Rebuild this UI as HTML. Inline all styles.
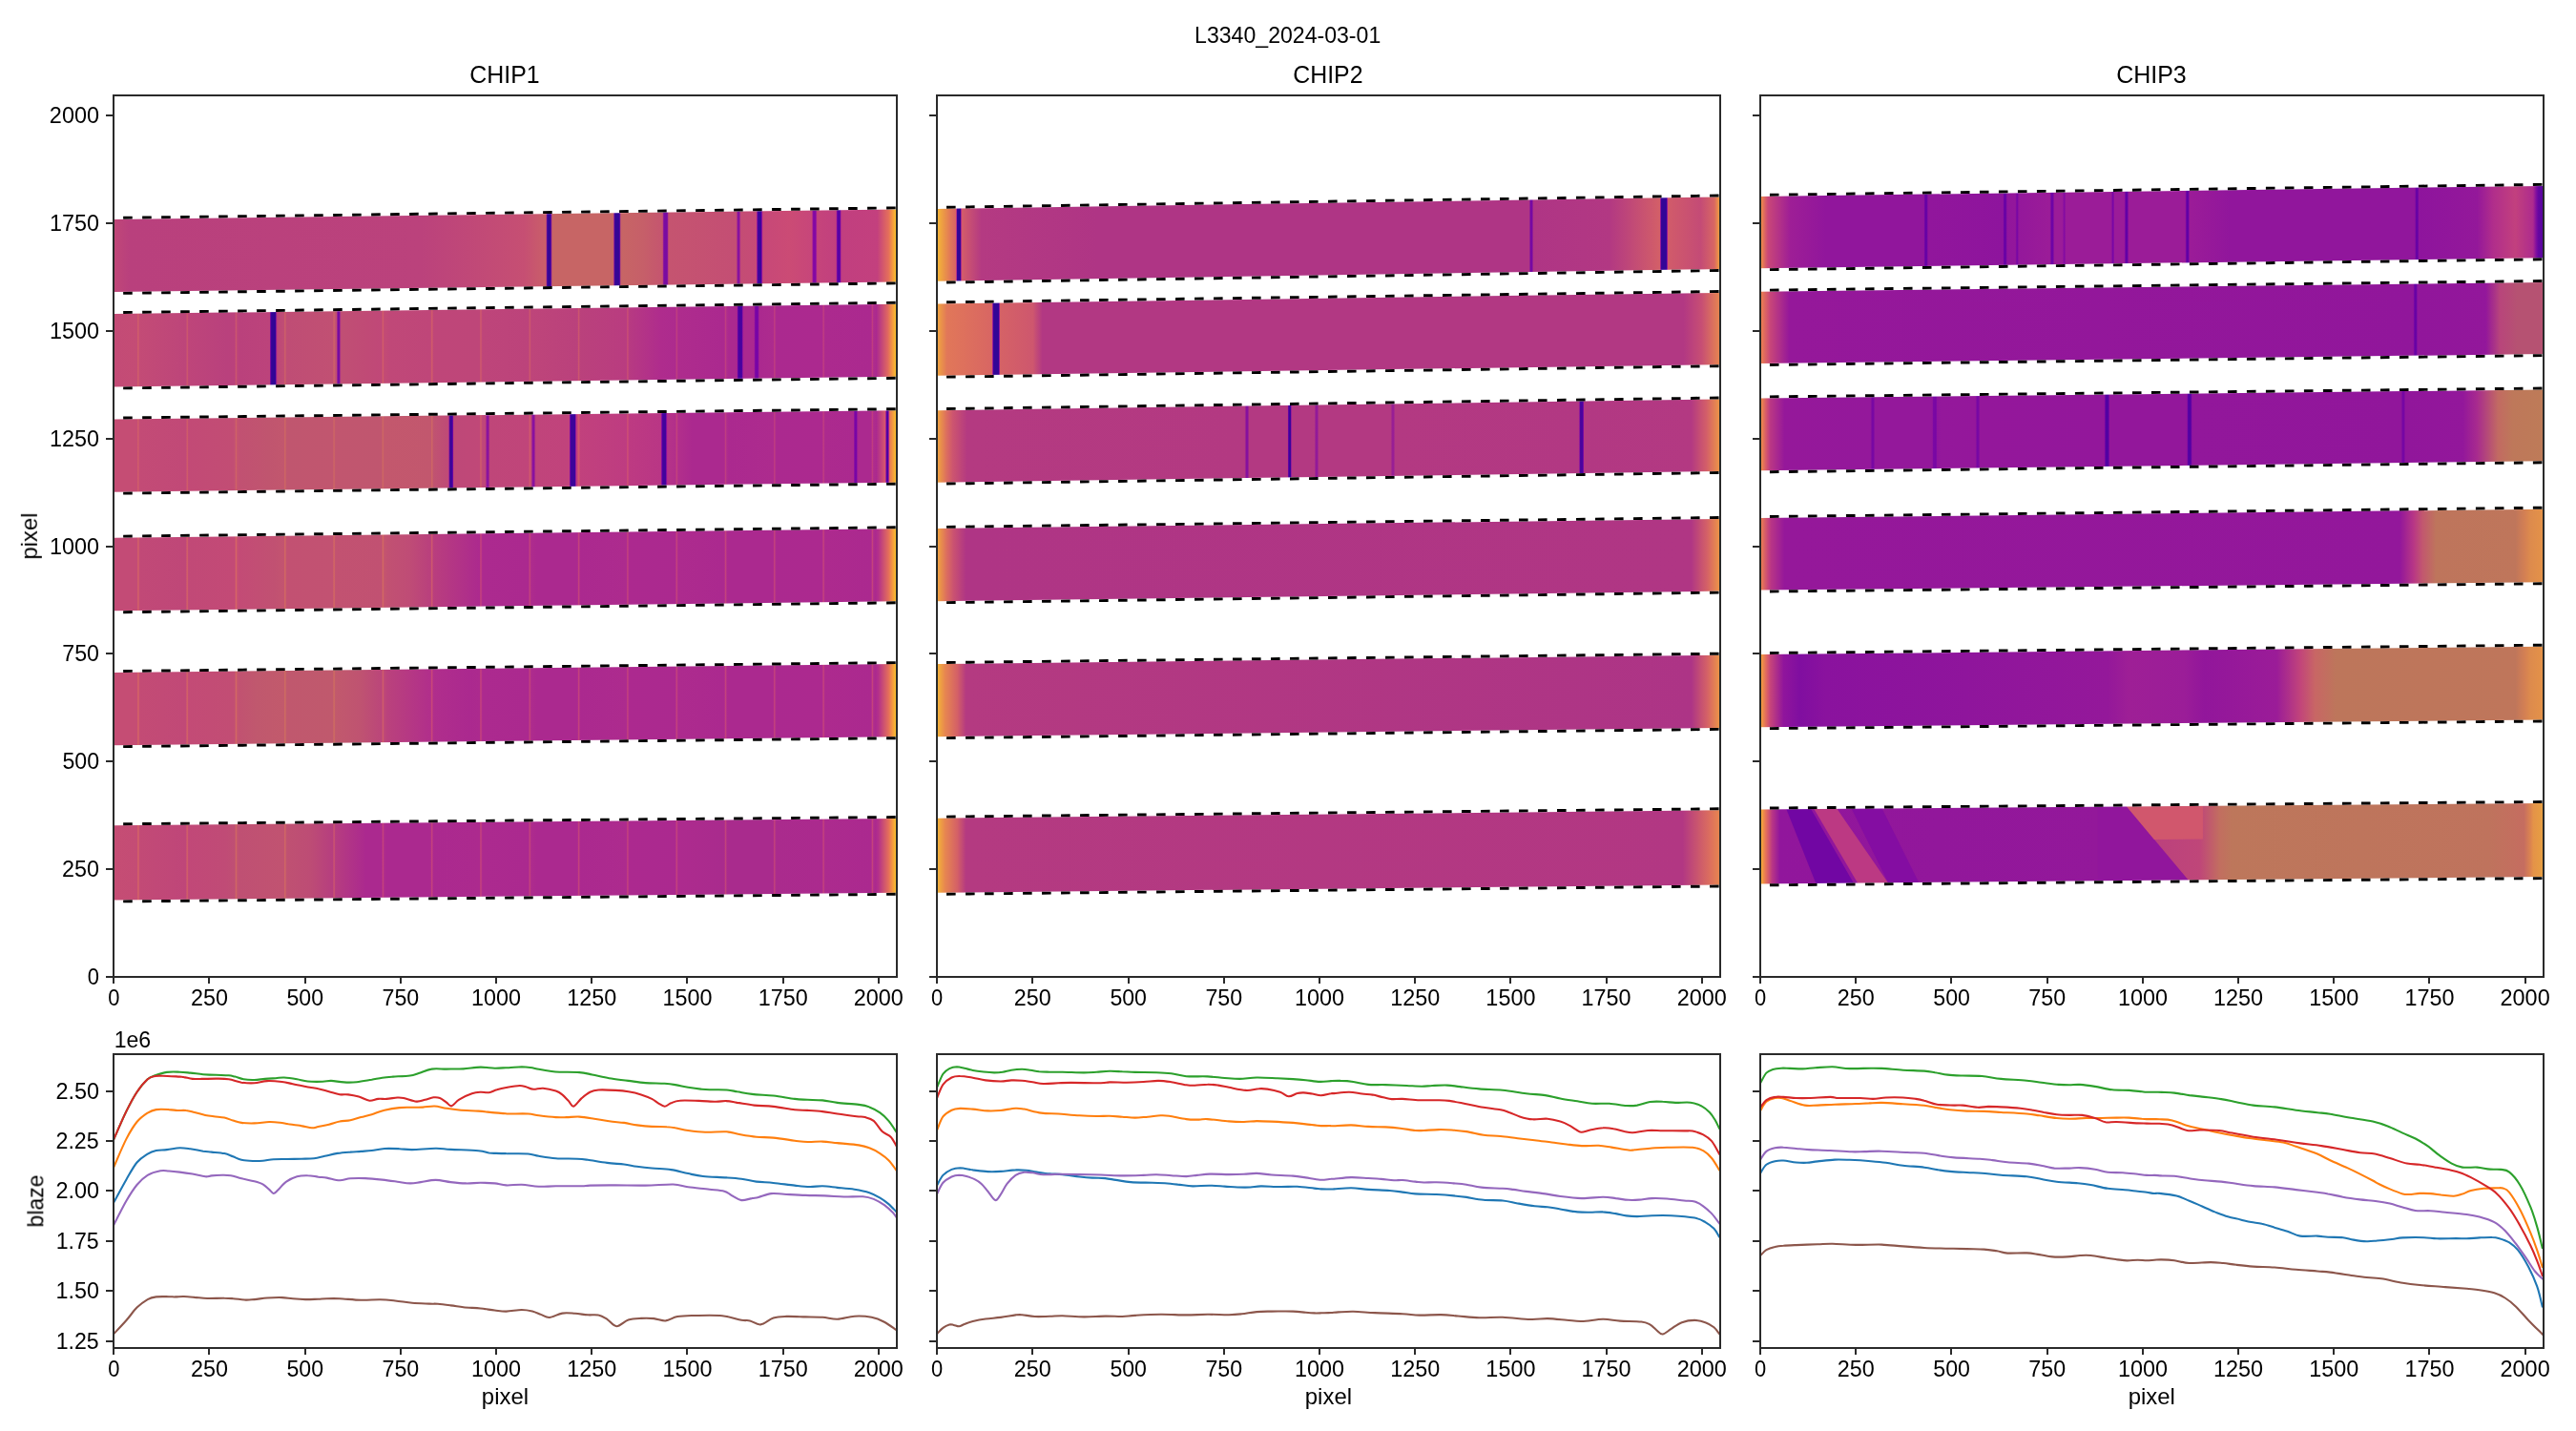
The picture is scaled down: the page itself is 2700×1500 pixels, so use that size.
<!DOCTYPE html>
<html><head><meta charset="utf-8"><title>L3340_2024-03-01</title>
<style>html,body{margin:0;padding:0;background:#fff;}svg{display:block;}
text{font-family:"Liberation Sans",sans-serif;fill:#000;font-kerning:none;}</style></head>
<body>
<svg xmlns="http://www.w3.org/2000/svg" width="2700" height="1500" viewBox="0 0 2700 1500">
<defs><clipPath id="cb1"><rect x="119.10" y="1105.20" width="820.83" height="307.80"/></clipPath><clipPath id="ct1"><rect x="119.10" y="100.06" width="820.83" height="923.84"/></clipPath><clipPath id="cb2"><rect x="982.00" y="1105.20" width="820.83" height="307.80"/></clipPath><clipPath id="ct2"><rect x="982.00" y="100.06" width="820.83" height="923.84"/></clipPath><clipPath id="cb3"><rect x="1844.90" y="1105.20" width="820.83" height="307.80"/></clipPath><clipPath id="ct3"><rect x="1844.90" y="100.06" width="820.83" height="923.84"/></clipPath><linearGradient id="g1" gradientUnits="userSpaceOnUse" x1="119.10" y1="0" x2="940.10" y2="0"><stop offset="0.0006" stop-color="#c04778"/><stop offset="0.0201" stop-color="#b9407d"/><stop offset="0.3928" stop-color="#bb427c"/><stop offset="0.5244" stop-color="#c64f73"/><stop offset="0.5487" stop-color="#c95d6a"/><stop offset="0.5512" stop-color="#c95f69"/><stop offset="0.5524" stop-color="#b7457b"/><stop offset="0.5536" stop-color="#45079b"/><stop offset="0.5548" stop-color="#340696"/><stop offset="0.5572" stop-color="#340696"/><stop offset="0.5585" stop-color="#640a9f"/><stop offset="0.5597" stop-color="#c35c6b"/><stop offset="0.5609" stop-color="#c76565"/><stop offset="0.6376" stop-color="#c76565"/><stop offset="0.6389" stop-color="#912194"/><stop offset="0.6401" stop-color="#350696"/><stop offset="0.6449" stop-color="#350696"/><stop offset="0.6462" stop-color="#5d0a9e"/><stop offset="0.6474" stop-color="#c0586e"/><stop offset="0.6486" stop-color="#c76565"/><stop offset="0.6766" stop-color="#c65f69"/><stop offset="0.6998" stop-color="#c5556f"/><stop offset="0.7010" stop-color="#be4978"/><stop offset="0.7022" stop-color="#87139d"/><stop offset="0.7034" stop-color="#780ba1"/><stop offset="0.7058" stop-color="#780ba1"/><stop offset="0.7071" stop-color="#87139d"/><stop offset="0.7083" stop-color="#be4978"/><stop offset="0.7095" stop-color="#c55470"/><stop offset="0.7948" stop-color="#c44e74"/><stop offset="0.7960" stop-color="#a92d8b"/><stop offset="0.7972" stop-color="#86109f"/><stop offset="0.7984" stop-color="#85109f"/><stop offset="0.7996" stop-color="#a92c8c"/><stop offset="0.8009" stop-color="#c44d74"/><stop offset="0.8203" stop-color="#c64a77"/><stop offset="0.8216" stop-color="#8d119f"/><stop offset="0.8228" stop-color="#3c049b"/><stop offset="0.8264" stop-color="#3c049b"/><stop offset="0.8276" stop-color="#8c10a0"/><stop offset="0.8289" stop-color="#c74878"/><stop offset="0.8630" stop-color="#cb4b75"/><stop offset="0.8910" stop-color="#c7467a"/><stop offset="0.8922" stop-color="#ad2a8f"/><stop offset="0.8934" stop-color="#8309a4"/><stop offset="0.8959" stop-color="#8309a4"/><stop offset="0.8971" stop-color="#a32096"/><stop offset="0.8983" stop-color="#c5447b"/><stop offset="0.9214" stop-color="#c2407e"/><stop offset="0.9227" stop-color="#b63289"/><stop offset="0.9239" stop-color="#6801a7"/><stop offset="0.9251" stop-color="#5502a3"/><stop offset="0.9263" stop-color="#5502a3"/><stop offset="0.9275" stop-color="#6801a7"/><stop offset="0.9287" stop-color="#b53289"/><stop offset="0.9300" stop-color="#c13f7f"/><stop offset="0.9750" stop-color="#c3407e"/><stop offset="0.9896" stop-color="#e5705a"/><stop offset="0.9957" stop-color="#f7a53a"/><stop offset="0.9994" stop-color="#f8c62d"/></linearGradient><linearGradient id="g2" gradientUnits="userSpaceOnUse" x1="119.10" y1="0" x2="940.10" y2="0"><stop offset="0.0006" stop-color="#c34b76"/><stop offset="0.0298" stop-color="#c44c75"/><stop offset="0.0311" stop-color="#d15e69"/><stop offset="0.0335" stop-color="#c34b76"/><stop offset="0.0920" stop-color="#bd457a"/><stop offset="0.0944" stop-color="#cc576e"/><stop offset="0.0956" stop-color="#be457a"/><stop offset="0.1443" stop-color="#b9417d"/><stop offset="0.1541" stop-color="#ba417c"/><stop offset="0.1553" stop-color="#c04778"/><stop offset="0.1565" stop-color="#cd576d"/><stop offset="0.1577" stop-color="#be4679"/><stop offset="0.1602" stop-color="#ba417c"/><stop offset="0.1991" stop-color="#bc437b"/><stop offset="0.2004" stop-color="#6d04a4"/><stop offset="0.2016" stop-color="#310596"/><stop offset="0.2065" stop-color="#310596"/><stop offset="0.2077" stop-color="#971c97"/><stop offset="0.2089" stop-color="#bd4679"/><stop offset="0.2174" stop-color="#c04d74"/><stop offset="0.2186" stop-color="#cd5f69"/><stop offset="0.2211" stop-color="#bf4d75"/><stop offset="0.2795" stop-color="#c15073"/><stop offset="0.2808" stop-color="#cb5c6a"/><stop offset="0.2820" stop-color="#cd5f69"/><stop offset="0.2832" stop-color="#c25073"/><stop offset="0.2844" stop-color="#c14f73"/><stop offset="0.2856" stop-color="#961f95"/><stop offset="0.2868" stop-color="#750ba1"/><stop offset="0.2881" stop-color="#750ba1"/><stop offset="0.2893" stop-color="#ac3487"/><stop offset="0.2905" stop-color="#c04f74"/><stop offset="0.3246" stop-color="#c04a76"/><stop offset="0.3417" stop-color="#c04878"/><stop offset="0.3429" stop-color="#c75072"/><stop offset="0.3441" stop-color="#d25e69"/><stop offset="0.3453" stop-color="#c34b75"/><stop offset="0.3526" stop-color="#c04878"/><stop offset="0.4038" stop-color="#bf4679"/><stop offset="0.4050" stop-color="#c24a77"/><stop offset="0.4062" stop-color="#d05c6a"/><stop offset="0.4086" stop-color="#bf4679"/><stop offset="0.4671" stop-color="#be4679"/><stop offset="0.4683" stop-color="#cb556f"/><stop offset="0.4695" stop-color="#ca5370"/><stop offset="0.4708" stop-color="#be457a"/><stop offset="0.5292" stop-color="#bc437b"/><stop offset="0.5317" stop-color="#cd576d"/><stop offset="0.5329" stop-color="#be457a"/><stop offset="0.5914" stop-color="#ba417c"/><stop offset="0.5926" stop-color="#be4679"/><stop offset="0.5938" stop-color="#cd576d"/><stop offset="0.5950" stop-color="#c04878"/><stop offset="0.5962" stop-color="#ba417c"/><stop offset="0.6547" stop-color="#b93c80"/><stop offset="0.6559" stop-color="#c84c75"/><stop offset="0.6571" stop-color="#c34679"/><stop offset="0.6583" stop-color="#b73a82"/><stop offset="0.6985" stop-color="#af2c8d"/><stop offset="0.7168" stop-color="#ad2b8e"/><stop offset="0.7192" stop-color="#bf3d80"/><stop offset="0.7205" stop-color="#ae2c8d"/><stop offset="0.7789" stop-color="#ab298f"/><stop offset="0.7801" stop-color="#b12e8b"/><stop offset="0.7814" stop-color="#c13f7f"/><stop offset="0.7826" stop-color="#b02e8c"/><stop offset="0.7850" stop-color="#ab298f"/><stop offset="0.7948" stop-color="#ab298f"/><stop offset="0.7960" stop-color="#a52393"/><stop offset="0.7972" stop-color="#5e01a5"/><stop offset="0.7984" stop-color="#46039f"/><stop offset="0.8009" stop-color="#46039f"/><stop offset="0.8021" stop-color="#4e02a1"/><stop offset="0.8033" stop-color="#99199b"/><stop offset="0.8045" stop-color="#ab298f"/><stop offset="0.8167" stop-color="#ab298f"/><stop offset="0.8179" stop-color="#a42394"/><stop offset="0.8191" stop-color="#7f08a4"/><stop offset="0.8203" stop-color="#7705a6"/><stop offset="0.8216" stop-color="#7705a6"/><stop offset="0.8228" stop-color="#7f08a4"/><stop offset="0.8240" stop-color="#a42394"/><stop offset="0.8252" stop-color="#ab298f"/><stop offset="0.8423" stop-color="#ad2b8e"/><stop offset="0.8435" stop-color="#bf3c81"/><stop offset="0.8459" stop-color="#ab298f"/><stop offset="0.9044" stop-color="#ac298f"/><stop offset="0.9056" stop-color="#b93685"/><stop offset="0.9068" stop-color="#bd3a83"/><stop offset="0.9080" stop-color="#ac2a8e"/><stop offset="0.9665" stop-color="#ab298f"/><stop offset="0.9677" stop-color="#b3308a"/><stop offset="0.9689" stop-color="#c13e7f"/><stop offset="0.9702" stop-color="#af2c8d"/><stop offset="0.9738" stop-color="#ab298f"/><stop offset="0.9884" stop-color="#e06860"/><stop offset="0.9957" stop-color="#f7a53a"/><stop offset="0.9994" stop-color="#f8c62d"/></linearGradient><linearGradient id="g3" gradientUnits="userSpaceOnUse" x1="119.10" y1="0" x2="940.10" y2="0"><stop offset="0.0006" stop-color="#c54d74"/><stop offset="0.0298" stop-color="#c54d74"/><stop offset="0.0311" stop-color="#d25e69"/><stop offset="0.0335" stop-color="#c34b76"/><stop offset="0.0920" stop-color="#c14977"/><stop offset="0.0944" stop-color="#d05c6a"/><stop offset="0.0956" stop-color="#c24a76"/><stop offset="0.1529" stop-color="#c24d74"/><stop offset="0.1553" stop-color="#c65470"/><stop offset="0.1565" stop-color="#d16465"/><stop offset="0.1577" stop-color="#c55470"/><stop offset="0.1614" stop-color="#c15172"/><stop offset="0.1979" stop-color="#c0556f"/><stop offset="0.2174" stop-color="#c2576e"/><stop offset="0.2186" stop-color="#cd6664"/><stop offset="0.2211" stop-color="#c0566f"/><stop offset="0.2795" stop-color="#c1566f"/><stop offset="0.2808" stop-color="#ca6167"/><stop offset="0.2820" stop-color="#cb6366"/><stop offset="0.2832" stop-color="#c1566f"/><stop offset="0.3417" stop-color="#c0566f"/><stop offset="0.3441" stop-color="#ce6763"/><stop offset="0.3453" stop-color="#c3586d"/><stop offset="0.4050" stop-color="#c2576e"/><stop offset="0.4062" stop-color="#ce6664"/><stop offset="0.4086" stop-color="#c05371"/><stop offset="0.4269" stop-color="#bf4a77"/><stop offset="0.4281" stop-color="#a4298e"/><stop offset="0.4294" stop-color="#3c059a"/><stop offset="0.4318" stop-color="#3b059a"/><stop offset="0.4330" stop-color="#6b05a3"/><stop offset="0.4342" stop-color="#be4878"/><stop offset="0.4671" stop-color="#c04878"/><stop offset="0.4683" stop-color="#cc576e"/><stop offset="0.4695" stop-color="#cb556f"/><stop offset="0.4708" stop-color="#bf4779"/><stop offset="0.4744" stop-color="#bf4679"/><stop offset="0.4756" stop-color="#a72b8d"/><stop offset="0.4769" stop-color="#89129e"/><stop offset="0.4781" stop-color="#89129e"/><stop offset="0.4793" stop-color="#a72a8d"/><stop offset="0.4805" stop-color="#bf4679"/><stop offset="0.5292" stop-color="#c0457a"/><stop offset="0.5317" stop-color="#d1596c"/><stop offset="0.5329" stop-color="#c24779"/><stop offset="0.5353" stop-color="#8810a0"/><stop offset="0.5365" stop-color="#8810a0"/><stop offset="0.5390" stop-color="#c0447b"/><stop offset="0.5816" stop-color="#c1437c"/><stop offset="0.5828" stop-color="#7405a6"/><stop offset="0.5840" stop-color="#3b049a"/><stop offset="0.5889" stop-color="#3b049a"/><stop offset="0.5901" stop-color="#9b1b99"/><stop offset="0.5914" stop-color="#c1427c"/><stop offset="0.5926" stop-color="#c54679"/><stop offset="0.5938" stop-color="#d3586c"/><stop offset="0.5950" stop-color="#c74878"/><stop offset="0.5962" stop-color="#c1417d"/><stop offset="0.6547" stop-color="#be3c81"/><stop offset="0.6559" stop-color="#cd4d74"/><stop offset="0.6571" stop-color="#c84779"/><stop offset="0.6583" stop-color="#bd3a82"/><stop offset="0.6985" stop-color="#b93685"/><stop offset="0.6998" stop-color="#7c06a6"/><stop offset="0.7010" stop-color="#42039d"/><stop offset="0.7046" stop-color="#41039d"/><stop offset="0.7058" stop-color="#8b0ea2"/><stop offset="0.7071" stop-color="#b63388"/><stop offset="0.7168" stop-color="#b22f8b"/><stop offset="0.7192" stop-color="#c3417d"/><stop offset="0.7205" stop-color="#b22f8b"/><stop offset="0.7387" stop-color="#ab298f"/><stop offset="0.7789" stop-color="#ab298f"/><stop offset="0.7801" stop-color="#b12e8b"/><stop offset="0.7814" stop-color="#c13f7f"/><stop offset="0.7826" stop-color="#b02e8c"/><stop offset="0.7850" stop-color="#ab298f"/><stop offset="0.8423" stop-color="#ad2b8e"/><stop offset="0.8435" stop-color="#bf3c81"/><stop offset="0.8459" stop-color="#ab298f"/><stop offset="0.9044" stop-color="#ac298f"/><stop offset="0.9056" stop-color="#b93685"/><stop offset="0.9068" stop-color="#bd3a83"/><stop offset="0.9080" stop-color="#ac2a8e"/><stop offset="0.9446" stop-color="#ab298f"/><stop offset="0.9458" stop-color="#870da2"/><stop offset="0.9470" stop-color="#7705a6"/><stop offset="0.9482" stop-color="#7705a6"/><stop offset="0.9495" stop-color="#9d1d98"/><stop offset="0.9507" stop-color="#ab298f"/><stop offset="0.9665" stop-color="#ab298f"/><stop offset="0.9677" stop-color="#b3308a"/><stop offset="0.9689" stop-color="#c13e7f"/><stop offset="0.9702" stop-color="#af2c8d"/><stop offset="0.9738" stop-color="#ab298f"/><stop offset="0.9848" stop-color="#d5576d"/><stop offset="0.9860" stop-color="#9f1b9a"/><stop offset="0.9872" stop-color="#4b03a1"/><stop offset="0.9884" stop-color="#4c02a1"/><stop offset="0.9896" stop-color="#aa2593"/><stop offset="0.9909" stop-color="#ea7a53"/><stop offset="0.9970" stop-color="#f8b035"/><stop offset="0.9994" stop-color="#f8c62d"/></linearGradient><linearGradient id="g4" gradientUnits="userSpaceOnUse" x1="119.10" y1="0" x2="940.10" y2="0"><stop offset="0.0006" stop-color="#c34b76"/><stop offset="0.0298" stop-color="#c34b76"/><stop offset="0.0311" stop-color="#d36067"/><stop offset="0.0323" stop-color="#cd586d"/><stop offset="0.0335" stop-color="#c14977"/><stop offset="0.0920" stop-color="#bf4778"/><stop offset="0.0932" stop-color="#cc566e"/><stop offset="0.0944" stop-color="#d25f69"/><stop offset="0.0956" stop-color="#c14977"/><stop offset="0.1541" stop-color="#c34a76"/><stop offset="0.1553" stop-color="#c95271"/><stop offset="0.1565" stop-color="#d86763"/><stop offset="0.1577" stop-color="#c85172"/><stop offset="0.1602" stop-color="#c34b76"/><stop offset="0.2052" stop-color="#c15172"/><stop offset="0.2174" stop-color="#c35470"/><stop offset="0.2186" stop-color="#d26862"/><stop offset="0.2211" stop-color="#c25172"/><stop offset="0.2795" stop-color="#c25272"/><stop offset="0.2808" stop-color="#ce6167"/><stop offset="0.2820" stop-color="#d06465"/><stop offset="0.2832" stop-color="#c25271"/><stop offset="0.3417" stop-color="#c15172"/><stop offset="0.3429" stop-color="#c85a6c"/><stop offset="0.3441" stop-color="#d36a61"/><stop offset="0.3453" stop-color="#c5556f"/><stop offset="0.3502" stop-color="#c15172"/><stop offset="0.3782" stop-color="#bf4c76"/><stop offset="0.4038" stop-color="#b9407d"/><stop offset="0.4050" stop-color="#bd437b"/><stop offset="0.4062" stop-color="#cf5a6c"/><stop offset="0.4074" stop-color="#c24977"/><stop offset="0.4086" stop-color="#b93e7e"/><stop offset="0.4671" stop-color="#ac2a8e"/><stop offset="0.4683" stop-color="#c03d80"/><stop offset="0.4695" stop-color="#be3b82"/><stop offset="0.4708" stop-color="#ac2a8f"/><stop offset="0.5292" stop-color="#ab298f"/><stop offset="0.5317" stop-color="#c4427c"/><stop offset="0.5329" stop-color="#ae2c8d"/><stop offset="0.5402" stop-color="#ab298f"/><stop offset="0.5914" stop-color="#ab298f"/><stop offset="0.5926" stop-color="#b12e8b"/><stop offset="0.5938" stop-color="#c6447b"/><stop offset="0.5950" stop-color="#b4318a"/><stop offset="0.5962" stop-color="#ab298f"/><stop offset="0.6547" stop-color="#ad2b8e"/><stop offset="0.6559" stop-color="#c23f7e"/><stop offset="0.6571" stop-color="#bb3884"/><stop offset="0.6583" stop-color="#ac298f"/><stop offset="0.7168" stop-color="#ab298f"/><stop offset="0.7180" stop-color="#ba3785"/><stop offset="0.7192" stop-color="#c3407e"/><stop offset="0.7205" stop-color="#ad2b8e"/><stop offset="0.7789" stop-color="#ab298f"/><stop offset="0.7801" stop-color="#b3308a"/><stop offset="0.7814" stop-color="#c6447b"/><stop offset="0.7826" stop-color="#b22f8b"/><stop offset="0.7838" stop-color="#ab298f"/><stop offset="0.8410" stop-color="#ab298f"/><stop offset="0.8423" stop-color="#ae2b8d"/><stop offset="0.8435" stop-color="#c4417d"/><stop offset="0.8459" stop-color="#ab298f"/><stop offset="0.9044" stop-color="#ac298f"/><stop offset="0.9056" stop-color="#bd3a83"/><stop offset="0.9068" stop-color="#c13e7f"/><stop offset="0.9080" stop-color="#ad2a8e"/><stop offset="0.9665" stop-color="#ab298f"/><stop offset="0.9677" stop-color="#b53289"/><stop offset="0.9689" stop-color="#c6447b"/><stop offset="0.9702" stop-color="#b02d8c"/><stop offset="0.9726" stop-color="#ab298f"/><stop offset="0.9762" stop-color="#b3308a"/><stop offset="0.9896" stop-color="#e5705a"/><stop offset="0.9957" stop-color="#f7a53a"/><stop offset="0.9994" stop-color="#f8c62d"/></linearGradient><linearGradient id="g5" gradientUnits="userSpaceOnUse" x1="119.10" y1="0" x2="940.10" y2="0"><stop offset="0.0006" stop-color="#c54d74"/><stop offset="0.0298" stop-color="#c54d74"/><stop offset="0.0311" stop-color="#d56365"/><stop offset="0.0323" stop-color="#cf5b6b"/><stop offset="0.0335" stop-color="#c34b75"/><stop offset="0.0920" stop-color="#c14977"/><stop offset="0.0932" stop-color="#cd586d"/><stop offset="0.0944" stop-color="#d36167"/><stop offset="0.0956" stop-color="#c34b76"/><stop offset="0.1516" stop-color="#c24d74"/><stop offset="0.1541" stop-color="#c24f73"/><stop offset="0.1553" stop-color="#c7576e"/><stop offset="0.1565" stop-color="#d46a61"/><stop offset="0.1577" stop-color="#c6566e"/><stop offset="0.1602" stop-color="#c15271"/><stop offset="0.1821" stop-color="#c0586e"/><stop offset="0.2174" stop-color="#c25a6c"/><stop offset="0.2186" stop-color="#ce6c61"/><stop offset="0.2211" stop-color="#c0586e"/><stop offset="0.2795" stop-color="#c0596d"/><stop offset="0.2808" stop-color="#ca6664"/><stop offset="0.2820" stop-color="#cc6963"/><stop offset="0.2832" stop-color="#c1596d"/><stop offset="0.3149" stop-color="#bf5371"/><stop offset="0.3417" stop-color="#bb467a"/><stop offset="0.3429" stop-color="#c34e74"/><stop offset="0.3441" stop-color="#d05f69"/><stop offset="0.3453" stop-color="#bf4878"/><stop offset="0.3490" stop-color="#ba427c"/><stop offset="0.4038" stop-color="#b12f8b"/><stop offset="0.4050" stop-color="#b53388"/><stop offset="0.4062" stop-color="#ca4977"/><stop offset="0.4074" stop-color="#ba3884"/><stop offset="0.4086" stop-color="#b02e8c"/><stop offset="0.4537" stop-color="#ab298f"/><stop offset="0.4671" stop-color="#ac2a8e"/><stop offset="0.4683" stop-color="#c03d80"/><stop offset="0.4695" stop-color="#be3b82"/><stop offset="0.4708" stop-color="#ac2a8f"/><stop offset="0.5292" stop-color="#ab298f"/><stop offset="0.5317" stop-color="#c4427c"/><stop offset="0.5329" stop-color="#ae2c8d"/><stop offset="0.5402" stop-color="#ab298f"/><stop offset="0.5914" stop-color="#ab298f"/><stop offset="0.5926" stop-color="#b12e8b"/><stop offset="0.5938" stop-color="#c6447b"/><stop offset="0.5950" stop-color="#b4318a"/><stop offset="0.5962" stop-color="#ab298f"/><stop offset="0.6547" stop-color="#ad2b8e"/><stop offset="0.6559" stop-color="#c23f7e"/><stop offset="0.6571" stop-color="#bb3884"/><stop offset="0.6583" stop-color="#ac298f"/><stop offset="0.7168" stop-color="#ab298f"/><stop offset="0.7180" stop-color="#ba3785"/><stop offset="0.7192" stop-color="#c3407e"/><stop offset="0.7205" stop-color="#ad2b8e"/><stop offset="0.7789" stop-color="#ab298f"/><stop offset="0.7801" stop-color="#b3308a"/><stop offset="0.7814" stop-color="#c6447b"/><stop offset="0.7826" stop-color="#b22f8b"/><stop offset="0.7838" stop-color="#ab298f"/><stop offset="0.8410" stop-color="#ab298f"/><stop offset="0.8423" stop-color="#ae2b8d"/><stop offset="0.8435" stop-color="#c4417d"/><stop offset="0.8459" stop-color="#ab298f"/><stop offset="0.9044" stop-color="#ac298f"/><stop offset="0.9056" stop-color="#bd3a83"/><stop offset="0.9068" stop-color="#c13e7f"/><stop offset="0.9080" stop-color="#ad2a8e"/><stop offset="0.9665" stop-color="#ab298f"/><stop offset="0.9677" stop-color="#b53289"/><stop offset="0.9689" stop-color="#c6447b"/><stop offset="0.9702" stop-color="#b02d8c"/><stop offset="0.9726" stop-color="#ab298f"/><stop offset="0.9762" stop-color="#b3308a"/><stop offset="0.9896" stop-color="#e5705a"/><stop offset="0.9957" stop-color="#f7a53a"/><stop offset="0.9994" stop-color="#f8c62d"/></linearGradient><linearGradient id="g6" gradientUnits="userSpaceOnUse" x1="119.10" y1="0" x2="940.10" y2="0"><stop offset="0.0006" stop-color="#c54d74"/><stop offset="0.0298" stop-color="#c44c75"/><stop offset="0.0311" stop-color="#d46266"/><stop offset="0.0323" stop-color="#ce5a6c"/><stop offset="0.0335" stop-color="#c24a76"/><stop offset="0.0920" stop-color="#bf4679"/><stop offset="0.0932" stop-color="#cb556f"/><stop offset="0.0944" stop-color="#d15e69"/><stop offset="0.0956" stop-color="#c14878"/><stop offset="0.1431" stop-color="#c04b76"/><stop offset="0.1541" stop-color="#bf4f74"/><stop offset="0.1553" stop-color="#c5566f"/><stop offset="0.1565" stop-color="#d16862"/><stop offset="0.1577" stop-color="#c3556f"/><stop offset="0.1602" stop-color="#bf5073"/><stop offset="0.2174" stop-color="#c15371"/><stop offset="0.2186" stop-color="#d06764"/><stop offset="0.2211" stop-color="#bf5172"/><stop offset="0.2515" stop-color="#bd4c75"/><stop offset="0.2795" stop-color="#b63e7f"/><stop offset="0.2808" stop-color="#c54e74"/><stop offset="0.2820" stop-color="#c85072"/><stop offset="0.2832" stop-color="#b63d80"/><stop offset="0.3222" stop-color="#ab298f"/><stop offset="0.3417" stop-color="#ab298f"/><stop offset="0.3429" stop-color="#b53288"/><stop offset="0.3441" stop-color="#c6447b"/><stop offset="0.3453" stop-color="#b02d8c"/><stop offset="0.3477" stop-color="#ab298f"/><stop offset="0.4038" stop-color="#ab298f"/><stop offset="0.4050" stop-color="#af2d8c"/><stop offset="0.4062" stop-color="#c5437b"/><stop offset="0.4074" stop-color="#b63388"/><stop offset="0.4086" stop-color="#ab298f"/><stop offset="0.4671" stop-color="#ac2a8e"/><stop offset="0.4683" stop-color="#c03d80"/><stop offset="0.4695" stop-color="#be3b82"/><stop offset="0.4708" stop-color="#ac2a8f"/><stop offset="0.5292" stop-color="#ab298f"/><stop offset="0.5317" stop-color="#c4427c"/><stop offset="0.5329" stop-color="#ae2c8d"/><stop offset="0.5402" stop-color="#ab298f"/><stop offset="0.5914" stop-color="#ab298f"/><stop offset="0.5926" stop-color="#b12e8b"/><stop offset="0.5938" stop-color="#c6447b"/><stop offset="0.5950" stop-color="#b4318a"/><stop offset="0.5962" stop-color="#ab298f"/><stop offset="0.6547" stop-color="#ad2b8e"/><stop offset="0.6559" stop-color="#c23f7e"/><stop offset="0.6571" stop-color="#bb3884"/><stop offset="0.6583" stop-color="#ac298f"/><stop offset="0.7168" stop-color="#ab298f"/><stop offset="0.7180" stop-color="#ba3785"/><stop offset="0.7192" stop-color="#c3407e"/><stop offset="0.7205" stop-color="#ad2b8e"/><stop offset="0.7789" stop-color="#a92b8d"/><stop offset="0.7801" stop-color="#b13188"/><stop offset="0.7814" stop-color="#c4457a"/><stop offset="0.7826" stop-color="#b03089"/><stop offset="0.7838" stop-color="#a92b8d"/><stop offset="0.8410" stop-color="#a92b8d"/><stop offset="0.8423" stop-color="#ac2d8b"/><stop offset="0.8435" stop-color="#c2427c"/><stop offset="0.8459" stop-color="#aa2b8d"/><stop offset="0.9044" stop-color="#ab2a8e"/><stop offset="0.9056" stop-color="#bc3a82"/><stop offset="0.9068" stop-color="#c03e7f"/><stop offset="0.9080" stop-color="#ac2b8e"/><stop offset="0.9665" stop-color="#ab298f"/><stop offset="0.9677" stop-color="#b53289"/><stop offset="0.9689" stop-color="#c6447b"/><stop offset="0.9702" stop-color="#b02d8c"/><stop offset="0.9726" stop-color="#ab298f"/><stop offset="0.9762" stop-color="#b3308a"/><stop offset="0.9896" stop-color="#e5705a"/><stop offset="0.9957" stop-color="#f7a53a"/><stop offset="0.9994" stop-color="#f8c62d"/></linearGradient><linearGradient id="g7" gradientUnits="userSpaceOnUse" x1="982.00" y1="0" x2="1803.00" y2="0"><stop offset="0.0006" stop-color="#f4b636"/><stop offset="0.0177" stop-color="#e17559"/><stop offset="0.0238" stop-color="#d96564"/><stop offset="0.0250" stop-color="#b33289"/><stop offset="0.0262" stop-color="#330597"/><stop offset="0.0298" stop-color="#330597"/><stop offset="0.0311" stop-color="#af2e8b"/><stop offset="0.0323" stop-color="#d35c6a"/><stop offset="0.0566" stop-color="#b43a82"/><stop offset="0.2052" stop-color="#af3585"/><stop offset="0.7558" stop-color="#af3585"/><stop offset="0.7582" stop-color="#7508a3"/><stop offset="0.7594" stop-color="#7508a3"/><stop offset="0.7619" stop-color="#af3585"/><stop offset="0.8581" stop-color="#b23883"/><stop offset="0.9227" stop-color="#d35f68"/><stop offset="0.9239" stop-color="#95179b"/><stop offset="0.9251" stop-color="#330597"/><stop offset="0.9312" stop-color="#330597"/><stop offset="0.9324" stop-color="#93169c"/><stop offset="0.9336" stop-color="#d15b6a"/><stop offset="0.9750" stop-color="#c44b76"/><stop offset="0.9921" stop-color="#d86663"/><stop offset="0.9957" stop-color="#e68152"/><stop offset="0.9994" stop-color="#f0a240"/></linearGradient><linearGradient id="g8" gradientUnits="userSpaceOnUse" x1="982.00" y1="0" x2="1803.00" y2="0"><stop offset="0.0006" stop-color="#f0a53f"/><stop offset="0.0128" stop-color="#e17759"/><stop offset="0.0700" stop-color="#d86663"/><stop offset="0.0713" stop-color="#991a9a"/><stop offset="0.0725" stop-color="#340597"/><stop offset="0.0786" stop-color="#330597"/><stop offset="0.0798" stop-color="#97189b"/><stop offset="0.0810" stop-color="#d56266"/><stop offset="0.1224" stop-color="#ce576e"/><stop offset="0.1346" stop-color="#b23883"/><stop offset="0.9531" stop-color="#b23883"/><stop offset="0.9762" stop-color="#c74e74"/><stop offset="0.9994" stop-color="#e78550"/></linearGradient><linearGradient id="g9" gradientUnits="userSpaceOnUse" x1="982.00" y1="0" x2="1803.00" y2="0"><stop offset="0.0006" stop-color="#f0a43f"/><stop offset="0.0128" stop-color="#db6c60"/><stop offset="0.0201" stop-color="#cd556f"/><stop offset="0.0384" stop-color="#b43a81"/><stop offset="0.3928" stop-color="#b33982"/><stop offset="0.3952" stop-color="#86109e"/><stop offset="0.3965" stop-color="#86109e"/><stop offset="0.3989" stop-color="#b33982"/><stop offset="0.4476" stop-color="#b33982"/><stop offset="0.4488" stop-color="#6302a4"/><stop offset="0.4501" stop-color="#39049a"/><stop offset="0.4513" stop-color="#39049a"/><stop offset="0.4525" stop-color="#981e96"/><stop offset="0.4537" stop-color="#b33982"/><stop offset="0.4817" stop-color="#b33982"/><stop offset="0.4842" stop-color="#921999"/><stop offset="0.4854" stop-color="#921999"/><stop offset="0.4878" stop-color="#b33982"/><stop offset="0.5792" stop-color="#b33982"/><stop offset="0.5816" stop-color="#981e95"/><stop offset="0.5828" stop-color="#981e95"/><stop offset="0.5853" stop-color="#b33982"/><stop offset="0.8191" stop-color="#b23883"/><stop offset="0.8203" stop-color="#931a98"/><stop offset="0.8216" stop-color="#49039f"/><stop offset="0.8240" stop-color="#49039f"/><stop offset="0.8252" stop-color="#7508a3"/><stop offset="0.8264" stop-color="#b23883"/><stop offset="0.9629" stop-color="#b33982"/><stop offset="0.9823" stop-color="#d35e69"/><stop offset="0.9994" stop-color="#ed9547"/></linearGradient><linearGradient id="g10" gradientUnits="userSpaceOnUse" x1="982.00" y1="0" x2="1803.00" y2="0"><stop offset="0.0006" stop-color="#f0a43f"/><stop offset="0.0128" stop-color="#db6c60"/><stop offset="0.0213" stop-color="#ca5271"/><stop offset="0.0371" stop-color="#af3585"/><stop offset="0.9629" stop-color="#b03684"/><stop offset="0.9836" stop-color="#d56266"/><stop offset="0.9994" stop-color="#ed9547"/></linearGradient><linearGradient id="g11" gradientUnits="userSpaceOnUse" x1="982.00" y1="0" x2="1803.00" y2="0"><stop offset="0.0006" stop-color="#f3b438"/><stop offset="0.0104" stop-color="#e78650"/><stop offset="0.0262" stop-color="#d46067"/><stop offset="0.0371" stop-color="#b43a81"/><stop offset="0.9629" stop-color="#ad3486"/><stop offset="0.9836" stop-color="#d56266"/><stop offset="0.9994" stop-color="#ed9547"/></linearGradient><linearGradient id="g12" gradientUnits="userSpaceOnUse" x1="982.00" y1="0" x2="1803.00" y2="0"><stop offset="0.0006" stop-color="#f3b438"/><stop offset="0.0104" stop-color="#e78650"/><stop offset="0.0262" stop-color="#d46067"/><stop offset="0.0371" stop-color="#b43a81"/><stop offset="0.9519" stop-color="#b23783"/><stop offset="0.9884" stop-color="#de715c"/><stop offset="0.9994" stop-color="#e7864f"/></linearGradient><linearGradient id="g13" gradientUnits="userSpaceOnUse" x1="1844.90" y1="0" x2="2665.90" y2="0"><stop offset="0.0006" stop-color="#f29145"/><stop offset="0.0079" stop-color="#d3556e"/><stop offset="0.0104" stop-color="#c84679"/><stop offset="0.0384" stop-color="#9e1e96"/><stop offset="0.0834" stop-color="#91169c"/><stop offset="0.2089" stop-color="#91169c"/><stop offset="0.2101" stop-color="#7305a5"/><stop offset="0.2113" stop-color="#6502a5"/><stop offset="0.2125" stop-color="#6502a5"/><stop offset="0.2138" stop-color="#850ea0"/><stop offset="0.2150" stop-color="#91169c"/><stop offset="0.3100" stop-color="#8e149d"/><stop offset="0.3112" stop-color="#7004a5"/><stop offset="0.3124" stop-color="#6502a5"/><stop offset="0.3136" stop-color="#6903a5"/><stop offset="0.3149" stop-color="#88109f"/><stop offset="0.3161" stop-color="#91169c"/><stop offset="0.3258" stop-color="#93179b"/><stop offset="0.3270" stop-color="#810ca2"/><stop offset="0.3283" stop-color="#7707a4"/><stop offset="0.3295" stop-color="#8a119f"/><stop offset="0.3307" stop-color="#94189b"/><stop offset="0.3697" stop-color="#9b1c98"/><stop offset="0.3721" stop-color="#6c03a6"/><stop offset="0.3733" stop-color="#6c03a6"/><stop offset="0.3758" stop-color="#9b1c98"/><stop offset="0.3855" stop-color="#9b1c98"/><stop offset="0.3867" stop-color="#93169c"/><stop offset="0.3879" stop-color="#820ba2"/><stop offset="0.3892" stop-color="#8c119f"/><stop offset="0.3904" stop-color="#9b1c98"/><stop offset="0.4476" stop-color="#9b1c98"/><stop offset="0.4488" stop-color="#8f139e"/><stop offset="0.4501" stop-color="#7706a5"/><stop offset="0.4513" stop-color="#850da2"/><stop offset="0.4525" stop-color="#9b1c98"/><stop offset="0.4647" stop-color="#9b1c98"/><stop offset="0.4659" stop-color="#800aa3"/><stop offset="0.4671" stop-color="#6001a5"/><stop offset="0.4683" stop-color="#6001a5"/><stop offset="0.4695" stop-color="#800aa3"/><stop offset="0.4708" stop-color="#9b1c98"/><stop offset="0.5426" stop-color="#9b1c98"/><stop offset="0.5438" stop-color="#7706a5"/><stop offset="0.5451" stop-color="#6001a5"/><stop offset="0.5463" stop-color="#6001a5"/><stop offset="0.5475" stop-color="#880ea1"/><stop offset="0.5487" stop-color="#9b1c98"/><stop offset="0.5999" stop-color="#91169c"/><stop offset="0.8350" stop-color="#91169c"/><stop offset="0.8362" stop-color="#88109f"/><stop offset="0.8374" stop-color="#6903a5"/><stop offset="0.8386" stop-color="#6502a5"/><stop offset="0.8398" stop-color="#7004a5"/><stop offset="0.8410" stop-color="#8e149d"/><stop offset="0.9153" stop-color="#94189a"/><stop offset="0.9361" stop-color="#b12e8b"/><stop offset="0.9641" stop-color="#c2407e"/><stop offset="0.9860" stop-color="#ae2c8d"/><stop offset="0.9872" stop-color="#a82691"/><stop offset="0.9909" stop-color="#7f0da0"/><stop offset="0.9933" stop-color="#6707a1"/><stop offset="0.9994" stop-color="#57059f"/></linearGradient><linearGradient id="g14" gradientUnits="userSpaceOnUse" x1="1844.90" y1="0" x2="2665.90" y2="0"><stop offset="0.0006" stop-color="#ed824e"/><stop offset="0.0128" stop-color="#c84679"/><stop offset="0.0371" stop-color="#95189a"/><stop offset="0.8337" stop-color="#91169b"/><stop offset="0.8350" stop-color="#7607a4"/><stop offset="0.8362" stop-color="#6602a5"/><stop offset="0.8374" stop-color="#6602a5"/><stop offset="0.8386" stop-color="#830da1"/><stop offset="0.8398" stop-color="#91169b"/><stop offset="0.9263" stop-color="#93179b"/><stop offset="0.9446" stop-color="#b8457b"/><stop offset="0.9665" stop-color="#b65272"/><stop offset="0.9994" stop-color="#b65272"/></linearGradient><linearGradient id="g15" gradientUnits="userSpaceOnUse" x1="1844.90" y1="0" x2="2665.90" y2="0"><stop offset="0.0006" stop-color="#f29145"/><stop offset="0.0079" stop-color="#d5576c"/><stop offset="0.0128" stop-color="#bb3884"/><stop offset="0.0311" stop-color="#95189a"/><stop offset="0.1407" stop-color="#94189b"/><stop offset="0.1431" stop-color="#7707a4"/><stop offset="0.1443" stop-color="#7707a4"/><stop offset="0.1468" stop-color="#94189b"/><stop offset="0.2186" stop-color="#94189b"/><stop offset="0.2199" stop-color="#90159d"/><stop offset="0.2211" stop-color="#7b09a4"/><stop offset="0.2235" stop-color="#7707a4"/><stop offset="0.2247" stop-color="#7b09a4"/><stop offset="0.2259" stop-color="#90159d"/><stop offset="0.2308" stop-color="#94189b"/><stop offset="0.2747" stop-color="#94179b"/><stop offset="0.2771" stop-color="#7707a4"/><stop offset="0.2783" stop-color="#7707a4"/><stop offset="0.2808" stop-color="#94179b"/><stop offset="0.4391" stop-color="#93179b"/><stop offset="0.4403" stop-color="#7406a5"/><stop offset="0.4415" stop-color="#5102a2"/><stop offset="0.4440" stop-color="#5102a2"/><stop offset="0.4452" stop-color="#7406a5"/><stop offset="0.4464" stop-color="#93179b"/><stop offset="0.5438" stop-color="#93179b"/><stop offset="0.5451" stop-color="#8a119f"/><stop offset="0.5463" stop-color="#5b02a4"/><stop offset="0.5475" stop-color="#5102a2"/><stop offset="0.5487" stop-color="#5102a2"/><stop offset="0.5499" stop-color="#5b02a4"/><stop offset="0.5512" stop-color="#8a119f"/><stop offset="0.5524" stop-color="#92179b"/><stop offset="0.8179" stop-color="#91169b"/><stop offset="0.8203" stop-color="#7506a4"/><stop offset="0.8216" stop-color="#7506a4"/><stop offset="0.8240" stop-color="#91169b"/><stop offset="0.8971" stop-color="#93179b"/><stop offset="0.9153" stop-color="#a82b8e"/><stop offset="0.9421" stop-color="#c26a62"/><stop offset="0.9604" stop-color="#be785a"/><stop offset="0.9994" stop-color="#be7b58"/></linearGradient><linearGradient id="g16" gradientUnits="userSpaceOnUse" x1="1844.90" y1="0" x2="2665.90" y2="0"><stop offset="0.0006" stop-color="#ed814f"/><stop offset="0.0104" stop-color="#c6447b"/><stop offset="0.0140" stop-color="#b83586"/><stop offset="0.0311" stop-color="#95189a"/><stop offset="0.8167" stop-color="#93179b"/><stop offset="0.8350" stop-color="#b93884"/><stop offset="0.8459" stop-color="#c2586e"/><stop offset="0.8630" stop-color="#be755c"/><stop offset="0.9641" stop-color="#bf765b"/><stop offset="0.9762" stop-color="#d48053"/><stop offset="0.9836" stop-color="#dd8b4d"/><stop offset="0.9994" stop-color="#e49248"/></linearGradient><linearGradient id="g17" gradientUnits="userSpaceOnUse" x1="1844.90" y1="0" x2="2665.90" y2="0"><stop offset="0.0006" stop-color="#f6a33c"/><stop offset="0.0079" stop-color="#df6761"/><stop offset="0.0128" stop-color="#c7457a"/><stop offset="0.0298" stop-color="#90159c"/><stop offset="0.0505" stop-color="#800ea0"/><stop offset="0.0834" stop-color="#8a129e"/><stop offset="0.4440" stop-color="#94189a"/><stop offset="0.4708" stop-color="#9e1f96"/><stop offset="0.5414" stop-color="#9b1d98"/><stop offset="0.5670" stop-color="#92169b"/><stop offset="0.6596" stop-color="#9b1c98"/><stop offset="0.6900" stop-color="#c2457a"/><stop offset="0.7083" stop-color="#c86665"/><stop offset="0.7351" stop-color="#bd765b"/><stop offset="0.9641" stop-color="#bf765b"/><stop offset="0.9762" stop-color="#d48053"/><stop offset="0.9836" stop-color="#dd8b4d"/><stop offset="0.9994" stop-color="#e49248"/></linearGradient><linearGradient id="g18" gradientUnits="userSpaceOnUse" x1="1844.90" y1="0" x2="2665.90" y2="0"><stop offset="0.0006" stop-color="#f8b334"/><stop offset="0.0067" stop-color="#e87656"/><stop offset="0.0152" stop-color="#ba3785"/><stop offset="0.0250" stop-color="#91169c"/><stop offset="0.4330" stop-color="#93189a"/><stop offset="0.4452" stop-color="#b83c81"/><stop offset="0.5609" stop-color="#bf4679"/><stop offset="0.5865" stop-color="#c26e60"/><stop offset="0.6023" stop-color="#bd775b"/><stop offset="0.9312" stop-color="#bf735d"/><stop offset="0.9750" stop-color="#c56d60"/><stop offset="0.9836" stop-color="#dc8550"/><stop offset="0.9872" stop-color="#e49348"/><stop offset="0.9994" stop-color="#e79f42"/></linearGradient></defs>
<rect width="2700" height="1500" fill="#fff"/>
<g clip-path="url(#ct1)">
<polygon points="119.1,228.40 939.9,217.90 939.9,296.90 119.1,307.50" fill="url(#g1)"/>
<polygon points="119.1,327.60 939.9,317.20 939.9,396.30 119.1,407.00" fill="url(#g2)"/>
<polygon points="119.1,438.10 939.9,428.70 939.9,507.20 119.1,517.20" fill="url(#g3)"/>
<polygon points="119.1,562.20 939.9,552.80 939.9,631.80 119.1,641.80" fill="url(#g4)"/>
<polygon points="119.1,703.60 939.9,694.60 939.9,773.70 119.1,782.70" fill="url(#g5)"/>
<polygon points="119.1,863.80 939.9,856.50 939.9,937.30 119.1,945.00" fill="url(#g6)"/>
<line x1="79.1" y1="228.91" x2="939.9" y2="217.90" stroke="#fff" stroke-width="3"/>
<line x1="79.1" y1="228.91" x2="939.9" y2="217.90" stroke="#000" stroke-width="2.9" stroke-dasharray="9.6 10.4" stroke-dashoffset="9.95"/>
<line x1="79.1" y1="308.02" x2="939.9" y2="296.90" stroke="#fff" stroke-width="3"/>
<line x1="79.1" y1="308.02" x2="939.9" y2="296.90" stroke="#000" stroke-width="2.9" stroke-dasharray="9.6 10.4" stroke-dashoffset="9.95"/>
<line x1="79.1" y1="328.11" x2="939.9" y2="317.20" stroke="#fff" stroke-width="3"/>
<line x1="79.1" y1="328.11" x2="939.9" y2="317.20" stroke="#000" stroke-width="2.9" stroke-dasharray="9.6 10.4" stroke-dashoffset="9.95"/>
<line x1="79.1" y1="407.52" x2="939.9" y2="396.30" stroke="#fff" stroke-width="3"/>
<line x1="79.1" y1="407.52" x2="939.9" y2="396.30" stroke="#000" stroke-width="2.9" stroke-dasharray="9.6 10.4" stroke-dashoffset="9.95"/>
<line x1="79.1" y1="438.56" x2="939.9" y2="428.70" stroke="#fff" stroke-width="3"/>
<line x1="79.1" y1="438.56" x2="939.9" y2="428.70" stroke="#000" stroke-width="2.9" stroke-dasharray="9.6 10.4" stroke-dashoffset="9.95"/>
<line x1="79.1" y1="517.69" x2="939.9" y2="507.20" stroke="#fff" stroke-width="3"/>
<line x1="79.1" y1="517.69" x2="939.9" y2="507.20" stroke="#000" stroke-width="2.9" stroke-dasharray="9.6 10.4" stroke-dashoffset="9.95"/>
<line x1="79.1" y1="562.66" x2="939.9" y2="552.80" stroke="#fff" stroke-width="3"/>
<line x1="79.1" y1="562.66" x2="939.9" y2="552.80" stroke="#000" stroke-width="2.9" stroke-dasharray="9.6 10.4" stroke-dashoffset="9.95"/>
<line x1="79.1" y1="642.29" x2="939.9" y2="631.80" stroke="#fff" stroke-width="3"/>
<line x1="79.1" y1="642.29" x2="939.9" y2="631.80" stroke="#000" stroke-width="2.9" stroke-dasharray="9.6 10.4" stroke-dashoffset="9.95"/>
<line x1="79.1" y1="704.04" x2="939.9" y2="694.60" stroke="#fff" stroke-width="3"/>
<line x1="79.1" y1="704.04" x2="939.9" y2="694.60" stroke="#000" stroke-width="2.9" stroke-dasharray="9.6 10.4" stroke-dashoffset="9.95"/>
<line x1="79.1" y1="783.14" x2="939.9" y2="773.70" stroke="#fff" stroke-width="3"/>
<line x1="79.1" y1="783.14" x2="939.9" y2="773.70" stroke="#000" stroke-width="2.9" stroke-dasharray="9.6 10.4" stroke-dashoffset="9.95"/>
<line x1="79.1" y1="864.16" x2="939.9" y2="856.50" stroke="#fff" stroke-width="3"/>
<line x1="79.1" y1="864.16" x2="939.9" y2="856.50" stroke="#000" stroke-width="2.9" stroke-dasharray="9.6 10.4" stroke-dashoffset="9.95"/>
<line x1="79.1" y1="945.38" x2="939.9" y2="937.30" stroke="#fff" stroke-width="3"/>
<line x1="79.1" y1="945.38" x2="939.9" y2="937.30" stroke="#000" stroke-width="2.9" stroke-dasharray="9.6 10.4" stroke-dashoffset="9.95"/>
</g>
<g clip-path="url(#ct2)">
<polygon points="982.0,217.40 1802.8,205.00 1802.8,283.50 982.0,296.20" fill="url(#g7)"/>
<polygon points="982.0,316.90 1802.8,305.50 1802.8,383.70 982.0,395.30" fill="url(#g8)"/>
<polygon points="982.0,428.70 1802.8,417.00 1802.8,495.50 982.0,507.20" fill="url(#g9)"/>
<polygon points="982.0,552.50 1802.8,542.50 1802.8,621.10 982.0,631.80" fill="url(#g10)"/>
<polygon points="982.0,694.60 1802.8,685.20 1802.8,764.40 982.0,773.70" fill="url(#g11)"/>
<polygon points="982.0,856.20 1802.8,847.80 1802.8,929.00 982.0,937.30" fill="url(#g12)"/>
<line x1="942.0" y1="218.00" x2="1802.8" y2="205.00" stroke="#fff" stroke-width="3"/>
<line x1="942.0" y1="218.00" x2="1802.8" y2="205.00" stroke="#000" stroke-width="2.9" stroke-dasharray="9.6 10.4" stroke-dashoffset="9.95"/>
<line x1="942.0" y1="296.82" x2="1802.8" y2="283.50" stroke="#fff" stroke-width="3"/>
<line x1="942.0" y1="296.82" x2="1802.8" y2="283.50" stroke="#000" stroke-width="2.9" stroke-dasharray="9.6 10.4" stroke-dashoffset="9.95"/>
<line x1="942.0" y1="317.46" x2="1802.8" y2="305.50" stroke="#fff" stroke-width="3"/>
<line x1="942.0" y1="317.46" x2="1802.8" y2="305.50" stroke="#000" stroke-width="2.9" stroke-dasharray="9.6 10.4" stroke-dashoffset="9.95"/>
<line x1="942.0" y1="395.87" x2="1802.8" y2="383.70" stroke="#fff" stroke-width="3"/>
<line x1="942.0" y1="395.87" x2="1802.8" y2="383.70" stroke="#000" stroke-width="2.9" stroke-dasharray="9.6 10.4" stroke-dashoffset="9.95"/>
<line x1="942.0" y1="429.27" x2="1802.8" y2="417.00" stroke="#fff" stroke-width="3"/>
<line x1="942.0" y1="429.27" x2="1802.8" y2="417.00" stroke="#000" stroke-width="2.9" stroke-dasharray="9.6 10.4" stroke-dashoffset="9.95"/>
<line x1="942.0" y1="507.77" x2="1802.8" y2="495.50" stroke="#fff" stroke-width="3"/>
<line x1="942.0" y1="507.77" x2="1802.8" y2="495.50" stroke="#000" stroke-width="2.9" stroke-dasharray="9.6 10.4" stroke-dashoffset="9.95"/>
<line x1="942.0" y1="552.99" x2="1802.8" y2="542.50" stroke="#fff" stroke-width="3"/>
<line x1="942.0" y1="552.99" x2="1802.8" y2="542.50" stroke="#000" stroke-width="2.9" stroke-dasharray="9.6 10.4" stroke-dashoffset="9.95"/>
<line x1="942.0" y1="632.32" x2="1802.8" y2="621.10" stroke="#fff" stroke-width="3"/>
<line x1="942.0" y1="632.32" x2="1802.8" y2="621.10" stroke="#000" stroke-width="2.9" stroke-dasharray="9.6 10.4" stroke-dashoffset="9.95"/>
<line x1="942.0" y1="695.06" x2="1802.8" y2="685.20" stroke="#fff" stroke-width="3"/>
<line x1="942.0" y1="695.06" x2="1802.8" y2="685.20" stroke="#000" stroke-width="2.9" stroke-dasharray="9.6 10.4" stroke-dashoffset="9.95"/>
<line x1="942.0" y1="774.15" x2="1802.8" y2="764.40" stroke="#fff" stroke-width="3"/>
<line x1="942.0" y1="774.15" x2="1802.8" y2="764.40" stroke="#000" stroke-width="2.9" stroke-dasharray="9.6 10.4" stroke-dashoffset="9.95"/>
<line x1="942.0" y1="856.61" x2="1802.8" y2="847.80" stroke="#fff" stroke-width="3"/>
<line x1="942.0" y1="856.61" x2="1802.8" y2="847.80" stroke="#000" stroke-width="2.9" stroke-dasharray="9.6 10.4" stroke-dashoffset="9.95"/>
<line x1="942.0" y1="937.70" x2="1802.8" y2="929.00" stroke="#fff" stroke-width="3"/>
<line x1="942.0" y1="937.70" x2="1802.8" y2="929.00" stroke="#000" stroke-width="2.9" stroke-dasharray="9.6 10.4" stroke-dashoffset="9.95"/>
</g>
<g clip-path="url(#ct3)">
<polygon points="1844.9,204.40 2665.7,193.40 2665.7,271.80 1844.9,282.80" fill="url(#g13)"/>
<polygon points="1844.9,304.20 2665.7,294.50 2665.7,372.60 1844.9,382.60" fill="url(#g14)"/>
<polygon points="1844.9,416.00 2665.7,407.00 2665.7,484.80 1844.9,494.80" fill="url(#g15)"/>
<polygon points="1844.9,541.60 2665.7,532.20 2665.7,611.80 1844.9,620.10" fill="url(#g16)"/>
<polygon points="1844.9,684.60 2665.7,676.20 2665.7,756.00 1844.9,763.70" fill="url(#g17)"/>
<polygon points="1844.9,847.10 2665.7,840.50 2665.7,920.60 1844.9,927.90" fill="url(#g18)"/>
<polygon points="1871.9,846.88 1897.4,846.68 1943.6,927.02 1903.9,927.38" fill="#7106a3"/>
<polygon points="1900.6,846.65 1924.5,846.46 1979.9,926.70 1947.9,926.98" fill="#bc3983"/>
<polygon points="1939.9,846.34 1971.9,846.08 2011.9,926.41 1979.9,926.70" fill="#840da2"/>
<polygon points="2198.9,844.25 2227.9,844.02 2294.9,923.90 2198.9,924.75" fill="#91169c"/>
<polygon points="2227.9,844.02 2308.9,843.37 2308.9,879.55 2257.9,879.98" fill="#d1576d"/>
<line x1="1804.9" y1="204.94" x2="2665.7" y2="193.40" stroke="#fff" stroke-width="3"/>
<line x1="1804.9" y1="204.94" x2="2665.7" y2="193.40" stroke="#000" stroke-width="2.9" stroke-dasharray="9.6 10.4" stroke-dashoffset="9.95"/>
<line x1="1804.9" y1="283.34" x2="2665.7" y2="271.80" stroke="#fff" stroke-width="3"/>
<line x1="1804.9" y1="283.34" x2="2665.7" y2="271.80" stroke="#000" stroke-width="2.9" stroke-dasharray="9.6 10.4" stroke-dashoffset="9.95"/>
<line x1="1804.9" y1="304.67" x2="2665.7" y2="294.50" stroke="#fff" stroke-width="3"/>
<line x1="1804.9" y1="304.67" x2="2665.7" y2="294.50" stroke="#000" stroke-width="2.9" stroke-dasharray="9.6 10.4" stroke-dashoffset="9.95"/>
<line x1="1804.9" y1="383.09" x2="2665.7" y2="372.60" stroke="#fff" stroke-width="3"/>
<line x1="1804.9" y1="383.09" x2="2665.7" y2="372.60" stroke="#000" stroke-width="2.9" stroke-dasharray="9.6 10.4" stroke-dashoffset="9.95"/>
<line x1="1804.9" y1="416.44" x2="2665.7" y2="407.00" stroke="#fff" stroke-width="3"/>
<line x1="1804.9" y1="416.44" x2="2665.7" y2="407.00" stroke="#000" stroke-width="2.9" stroke-dasharray="9.6 10.4" stroke-dashoffset="9.95"/>
<line x1="1804.9" y1="495.29" x2="2665.7" y2="484.80" stroke="#fff" stroke-width="3"/>
<line x1="1804.9" y1="495.29" x2="2665.7" y2="484.80" stroke="#000" stroke-width="2.9" stroke-dasharray="9.6 10.4" stroke-dashoffset="9.95"/>
<line x1="1804.9" y1="542.06" x2="2665.7" y2="532.20" stroke="#fff" stroke-width="3"/>
<line x1="1804.9" y1="542.06" x2="2665.7" y2="532.20" stroke="#000" stroke-width="2.9" stroke-dasharray="9.6 10.4" stroke-dashoffset="9.95"/>
<line x1="1804.9" y1="620.50" x2="2665.7" y2="611.80" stroke="#fff" stroke-width="3"/>
<line x1="1804.9" y1="620.50" x2="2665.7" y2="611.80" stroke="#000" stroke-width="2.9" stroke-dasharray="9.6 10.4" stroke-dashoffset="9.95"/>
<line x1="1804.9" y1="685.01" x2="2665.7" y2="676.20" stroke="#fff" stroke-width="3"/>
<line x1="1804.9" y1="685.01" x2="2665.7" y2="676.20" stroke="#000" stroke-width="2.9" stroke-dasharray="9.6 10.4" stroke-dashoffset="9.95"/>
<line x1="1804.9" y1="764.08" x2="2665.7" y2="756.00" stroke="#fff" stroke-width="3"/>
<line x1="1804.9" y1="764.08" x2="2665.7" y2="756.00" stroke="#000" stroke-width="2.9" stroke-dasharray="9.6 10.4" stroke-dashoffset="9.95"/>
<line x1="1804.9" y1="847.42" x2="2665.7" y2="840.50" stroke="#fff" stroke-width="3"/>
<line x1="1804.9" y1="847.42" x2="2665.7" y2="840.50" stroke="#000" stroke-width="2.9" stroke-dasharray="9.6 10.4" stroke-dashoffset="9.95"/>
<line x1="1804.9" y1="928.26" x2="2665.7" y2="920.60" stroke="#fff" stroke-width="3"/>
<line x1="1804.9" y1="928.26" x2="2665.7" y2="920.60" stroke="#000" stroke-width="2.9" stroke-dasharray="9.6 10.4" stroke-dashoffset="9.95"/>
</g>
<g clip-path="url(#cb1)"><path d="M118.9,1261.0C121.2,1256.9 128.3,1243.5 132.4,1236.4C136.5,1229.3 139.8,1223.0 143.5,1218.5C147.3,1214.1 151.4,1211.7 154.7,1209.6C158.1,1207.5 160.3,1206.8 163.7,1206.0C167.0,1205.3 170.8,1205.6 174.9,1205.1C179.0,1204.7 184.2,1203.5 188.3,1203.3C192.4,1203.2 195.4,1203.7 199.5,1204.2C203.6,1204.8 209.1,1206.1 212.9,1206.7C216.6,1207.2 218.1,1207.2 221.8,1207.6C225.5,1208.0 231.5,1208.4 235.2,1209.1C239.0,1209.9 241.2,1211.2 244.2,1212.3C247.2,1213.4 249.4,1215.1 253.1,1215.8C256.9,1216.6 262.8,1216.8 266.6,1217.0C270.3,1217.1 272.1,1217.0 275.5,1216.7C278.9,1216.4 282.6,1215.5 286.7,1215.2C290.8,1214.9 295.3,1215.0 300.1,1215.0C304.9,1214.9 310.9,1214.8 315.8,1214.7C320.6,1214.6 325.1,1214.8 329.2,1214.3C333.3,1213.8 336.3,1212.7 340.4,1211.8C344.5,1210.9 349.3,1209.6 353.8,1208.9C358.2,1208.2 363.1,1207.9 367.2,1207.6C371.3,1207.2 374.6,1207.2 378.4,1206.9C382.1,1206.6 385.5,1206.5 389.6,1206.0C393.7,1205.5 398.1,1204.3 403.0,1204.0C407.8,1203.7 413.8,1204.0 418.6,1204.2C423.5,1204.4 425.7,1205.2 432.0,1205.1C438.4,1205.0 449.9,1203.8 456.6,1203.8C463.4,1203.7 464.8,1204.5 472.3,1204.9C479.8,1205.3 494.7,1205.6 501.4,1206.2C508.1,1206.8 509.5,1208.0 512.6,1208.5C515.7,1208.9 517.1,1208.8 520.0,1208.9C522.9,1209.0 527.8,1209.1 530.0,1209.1C532.2,1209.2 529.5,1209.3 533.4,1209.3C537.3,1209.4 548.3,1209.1 553.5,1209.5C558.8,1210.0 559.9,1211.0 564.7,1211.8C569.6,1212.6 575.9,1213.8 582.6,1214.2C589.3,1214.7 599.4,1214.4 605.0,1214.7C610.5,1215.0 610.9,1215.1 616.1,1215.8C621.4,1216.5 629.9,1218.2 636.3,1218.9C642.6,1219.7 648.9,1219.9 654.1,1220.5C659.4,1221.1 662.7,1222.1 667.6,1222.7C672.4,1223.4 677.2,1224.0 683.2,1224.5C689.2,1225.1 697.0,1225.2 703.3,1226.1C709.7,1227.0 715.6,1229.0 721.2,1230.1C726.8,1231.3 730.2,1232.3 736.9,1233.0C743.6,1233.7 754.7,1233.9 761.5,1234.4C768.2,1234.8 771.9,1235.0 777.1,1235.7C782.3,1236.4 787.2,1237.9 792.8,1238.6C798.3,1239.3 803.9,1239.3 810.6,1240.0C817.3,1240.6 826.7,1242.0 833.0,1242.6C839.3,1243.3 843.8,1243.9 848.6,1244.0C853.5,1244.1 857.2,1243.2 862.1,1243.3C866.9,1243.5 872.1,1244.3 877.7,1244.9C883.3,1245.4 890.0,1245.8 895.6,1246.7C901.2,1247.6 906.8,1248.7 911.2,1250.2C915.7,1251.7 919.1,1253.6 922.4,1255.6C925.8,1257.6 928.6,1259.7 931.4,1262.1C934.2,1264.5 937.9,1268.6 939.2,1269.9" stroke="#1f77b4" stroke-width="2.08" fill="none" stroke-linejoin="round" stroke-linecap="square"/><path d="M118.9,1224.1C121.2,1219.1 128.3,1201.9 132.4,1193.9C136.5,1185.9 139.8,1180.6 143.5,1176.0C147.3,1171.5 151.4,1168.8 154.7,1166.6C158.1,1164.5 159.9,1163.7 163.7,1163.1C167.4,1162.5 173.4,1162.9 177.1,1163.1C180.8,1163.2 183.1,1163.8 186.0,1164.0C189.0,1164.1 192.0,1163.6 195.0,1164.0C198.0,1164.3 200.6,1165.2 203.9,1166.0C207.3,1166.8 211.8,1168.2 215.1,1168.9C218.5,1169.6 220.7,1169.8 224.1,1170.2C227.4,1170.7 231.9,1170.9 235.2,1171.6C238.6,1172.3 241.2,1173.6 244.2,1174.5C247.2,1175.4 249.4,1176.4 253.1,1176.9C256.9,1177.4 261.7,1177.5 266.6,1177.4C271.4,1177.2 277.7,1176.2 282.2,1176.0C286.7,1175.9 290.0,1176.3 293.4,1176.7C296.7,1177.1 298.6,1177.7 302.3,1178.3C306.1,1178.8 311.7,1179.4 315.8,1180.1C319.9,1180.7 324.0,1182.2 326.9,1182.3C329.9,1182.4 330.7,1181.6 333.6,1181.0C336.6,1180.4 341.1,1179.6 344.8,1178.7C348.6,1177.8 352.3,1176.3 356.0,1175.6C359.7,1174.8 363.5,1175.0 367.2,1174.2C370.9,1173.5 374.6,1172.1 378.4,1171.1C382.1,1170.1 385.5,1169.4 389.6,1168.2C393.7,1167.0 398.1,1164.9 403.0,1163.7C407.8,1162.5 413.8,1161.5 418.6,1161.1C423.5,1160.6 427.9,1160.9 432.0,1160.8C436.1,1160.8 439.3,1160.8 443.2,1160.6C447.1,1160.4 451.4,1159.3 455.5,1159.5C459.6,1159.7 463.5,1161.1 467.8,1161.7C472.1,1162.4 475.7,1163.0 481.2,1163.5C486.8,1164.0 495.2,1164.2 501.4,1164.6C507.6,1165.1 513.7,1166.0 518.5,1166.4C523.3,1166.9 527.5,1167.1 530.0,1167.3C532.5,1167.5 529.5,1167.5 533.4,1167.5C537.3,1167.6 548.3,1167.2 553.5,1167.5C558.8,1167.8 559.9,1168.7 564.7,1169.3C569.6,1169.9 577.8,1170.8 582.6,1171.1C587.4,1171.4 589.7,1171.2 593.8,1171.1C597.9,1171.0 602.3,1170.4 607.2,1170.6C612.0,1170.9 617.6,1171.9 622.8,1172.7C628.1,1173.4 633.3,1174.6 638.5,1175.3C643.7,1176.1 649.3,1176.2 654.1,1176.9C659.0,1177.6 662.7,1178.7 667.6,1179.4C672.4,1180.0 678.0,1180.6 683.2,1180.9C688.4,1181.2 694.8,1180.9 698.9,1181.2C703.0,1181.4 704.1,1181.6 707.8,1182.3C711.5,1182.9 716.0,1184.2 721.2,1185.0C726.4,1185.7 732.4,1186.5 739.1,1186.7C745.8,1187.0 755.5,1185.9 761.5,1186.3C767.4,1186.7 769.7,1188.1 774.9,1189.0C780.1,1189.9 786.8,1191.1 792.8,1191.7C798.7,1192.3 803.9,1191.9 810.6,1192.6C817.3,1193.2 827.0,1194.9 833.0,1195.7C839.0,1196.4 841.6,1196.9 846.4,1197.0C851.3,1197.2 856.8,1196.4 862.1,1196.6C867.3,1196.8 871.4,1197.5 877.7,1198.1C884.0,1198.8 894.5,1199.5 900.1,1200.4C905.7,1201.2 907.5,1201.8 911.2,1203.3C915.0,1204.7 919.1,1206.9 922.4,1209.1C925.8,1211.3 928.6,1213.4 931.4,1216.3C934.2,1219.1 937.9,1224.6 939.2,1226.3" stroke="#ff7f0e" stroke-width="2.08" fill="none" stroke-linejoin="round" stroke-linecap="square"/><path d="M118.9,1195.0C121.2,1190.0 128.3,1173.2 132.4,1164.9C136.5,1156.5 139.8,1150.3 143.5,1144.7C147.3,1139.1 151.6,1134.2 154.7,1131.3C157.9,1128.4 159.2,1128.5 162.6,1127.3C165.9,1126.1 170.6,1124.5 174.9,1123.9C179.1,1123.3 184.2,1123.6 188.3,1123.7C192.4,1123.8 195.4,1124.2 199.5,1124.6C203.6,1125.0 208.4,1125.8 212.9,1126.2C217.3,1126.5 221.8,1126.7 226.3,1126.8C230.8,1127.0 236.4,1127.0 239.7,1127.3C243.1,1127.6 243.8,1128.0 246.4,1128.6C249.0,1129.3 252.0,1130.8 255.4,1131.3C258.7,1131.9 262.8,1132.1 266.6,1132.0C270.3,1131.9 274.0,1131.2 277.7,1130.9C281.5,1130.6 285.6,1130.4 288.9,1130.2C292.3,1130.0 294.1,1129.3 297.9,1129.5C301.6,1129.7 307.2,1130.6 311.3,1131.3C315.4,1132.0 318.0,1133.1 322.5,1133.5C326.9,1134.0 334.0,1133.9 338.1,1133.8C342.2,1133.7 343.3,1132.8 347.1,1132.9C350.8,1133.0 356.0,1134.2 360.5,1134.4C365.0,1134.7 369.1,1134.7 373.9,1134.2C378.7,1133.8 385.1,1132.5 389.6,1131.8C394.0,1131.0 397.0,1130.3 400.7,1129.7C404.5,1129.2 407.1,1129.0 411.9,1128.6C416.8,1128.3 425.3,1128.1 429.8,1127.5C434.3,1126.9 435.0,1126.2 438.8,1125.0C442.5,1123.9 447.3,1121.3 452.2,1120.6C457.0,1119.8 462.2,1120.6 467.8,1120.6C473.4,1120.5 479.8,1120.7 485.7,1120.4C491.7,1120.0 498.1,1118.7 503.6,1118.6C509.1,1118.5 514.1,1119.6 518.5,1119.7C522.9,1119.8 527.5,1119.3 530.0,1119.2C532.5,1119.2 530.6,1119.4 533.4,1119.2C536.2,1119.1 543.1,1118.4 546.8,1118.3C550.6,1118.3 552.8,1118.6 555.8,1119.0C558.8,1119.4 561.0,1120.1 564.7,1120.8C568.4,1121.5 574.4,1122.5 578.1,1123.0C581.9,1123.5 582.2,1123.5 587.1,1123.7C591.9,1123.9 601.6,1123.7 607.2,1124.1C612.8,1124.6 615.4,1125.4 620.6,1126.4C625.8,1127.4 632.2,1129.1 638.5,1130.2C644.8,1131.3 652.3,1132.0 658.6,1132.9C664.9,1133.7 670.2,1134.6 676.5,1135.1C682.8,1135.6 691.4,1135.4 696.6,1135.8C701.8,1136.1 703.7,1136.4 707.8,1137.1C711.9,1137.8 716.7,1139.0 721.2,1139.8C725.7,1140.5 730.9,1141.2 734.6,1141.6C738.4,1142.0 739.1,1142.1 743.6,1142.3C748.0,1142.4 756.6,1142.1 761.5,1142.5C766.3,1142.8 768.2,1143.5 772.6,1144.3C777.1,1145.0 781.9,1146.2 788.3,1146.9C794.6,1147.7 803.2,1147.7 810.6,1148.5C818.1,1149.3 827.0,1151.2 833.0,1151.9C839.0,1152.6 841.6,1152.5 846.4,1152.8C851.3,1153.0 856.8,1152.9 862.1,1153.4C867.3,1154.0 871.4,1155.1 877.7,1155.9C884.0,1156.6 894.5,1157.2 900.1,1157.9C905.7,1158.6 907.5,1158.9 911.2,1160.4C915.0,1161.8 919.1,1164.0 922.4,1166.4C925.8,1168.8 928.6,1171.6 931.4,1174.9C934.2,1178.2 937.9,1184.2 939.2,1186.1" stroke="#2ca02c" stroke-width="2.08" fill="none" stroke-linejoin="round" stroke-linecap="square"/><path d="M118.9,1195.0C121.2,1190.0 128.3,1173.2 132.4,1164.9C136.5,1156.5 139.8,1150.3 143.5,1144.7C147.3,1139.1 151.6,1134.1 154.7,1131.3C157.9,1128.5 159.9,1128.6 162.6,1128.0C165.2,1127.4 166.1,1127.6 170.4,1127.7C174.7,1127.8 184.5,1128.4 188.3,1128.6C192.0,1128.9 190.5,1128.7 192.7,1129.1C195.0,1129.4 198.7,1130.6 201.7,1130.9C204.7,1131.2 206.5,1130.9 210.6,1130.9C214.7,1130.8 221.4,1130.6 226.3,1130.6C231.1,1130.7 235.2,1130.6 239.7,1131.3C244.2,1132.0 248.7,1134.0 253.1,1134.7C257.6,1135.3 262.1,1135.6 266.6,1135.3C271.0,1135.1 275.1,1133.3 280.0,1133.1C284.8,1132.9 291.2,1133.5 295.6,1134.0C300.1,1134.5 303.1,1135.5 306.8,1136.2C310.5,1137.0 315.0,1137.9 318.0,1138.5C321.0,1139.1 322.1,1139.4 324.7,1139.8C327.3,1140.3 330.3,1140.4 333.6,1141.2C337.0,1141.9 341.1,1143.3 344.8,1144.3C348.6,1145.3 352.7,1146.7 356.0,1147.2C359.4,1147.7 361.6,1147.0 365.0,1147.4C368.3,1147.8 372.4,1148.6 376.1,1149.6C379.9,1150.7 384.0,1153.3 387.3,1153.7C390.7,1154.0 393.3,1152.2 396.3,1151.9C399.2,1151.6 401.9,1152.1 405.2,1151.9C408.6,1151.7 413.4,1150.7 416.4,1150.5C419.4,1150.4 419.7,1150.3 423.1,1151.0C426.5,1151.7 432.8,1154.3 436.5,1154.6C440.2,1154.9 442.5,1153.5 445.5,1152.8C448.4,1152.1 451.8,1150.6 454.4,1150.3C457.0,1150.0 458.9,1150.1 461.1,1151.0C463.4,1151.8 465.8,1154.1 467.8,1155.5C469.9,1156.8 471.2,1159.8 473.4,1159.3C475.7,1158.8 477.7,1154.7 481.2,1152.6C484.8,1150.4 490.9,1147.6 494.7,1146.3C498.4,1145.0 500.6,1144.9 503.6,1144.7C506.6,1144.5 509.7,1145.6 512.6,1145.2C515.4,1144.8 517.7,1143.1 520.8,1142.3C523.8,1141.4 526.6,1140.7 530.6,1140.0C534.6,1139.3 541.1,1138.1 544.6,1138.0C548.0,1137.9 548.9,1138.7 551.3,1139.3C553.7,1140.0 556.1,1141.6 559.1,1141.8C562.1,1142.0 565.3,1140.4 569.2,1140.7C573.1,1141.0 579.2,1142.5 582.6,1143.6C586.0,1144.7 587.1,1145.6 589.3,1147.4C591.5,1149.1 594.0,1152.1 596.0,1154.1C598.0,1156.2 598.9,1160.1 601.2,1159.7C603.4,1159.2 606.6,1153.9 609.4,1151.4C612.3,1148.9 615.4,1146.2 618.4,1144.7C621.4,1143.2 622.8,1142.8 627.3,1142.5C631.8,1142.2 640.0,1142.6 645.2,1142.9C650.4,1143.2 654.1,1143.5 658.6,1144.3C663.1,1145.0 667.9,1146.1 672.0,1147.4C676.1,1148.7 680.2,1150.4 683.2,1151.9C686.2,1153.4 687.7,1155.0 689.9,1156.3C692.1,1157.6 694.4,1159.7 696.6,1159.7C698.9,1159.7 700.7,1157.3 703.3,1156.3C705.9,1155.3 707.4,1154.1 712.3,1153.7C717.1,1153.2 726.1,1153.7 732.4,1153.9C738.7,1154.1 745.4,1154.7 750.3,1154.8C755.1,1154.8 757.7,1153.9 761.5,1154.1C765.2,1154.3 767.8,1155.1 772.6,1155.9C777.5,1156.6 784.2,1157.9 790.5,1158.6C796.9,1159.2 803.6,1159.1 810.6,1159.9C817.7,1160.7 827.0,1162.6 833.0,1163.3C839.0,1163.9 841.6,1163.6 846.4,1163.9C851.3,1164.2 856.8,1164.5 862.1,1165.1C867.3,1165.7 871.7,1166.7 877.7,1167.5C883.7,1168.4 893.0,1169.6 897.8,1170.2C902.7,1170.8 903.8,1170.3 906.8,1171.1C909.8,1171.9 912.7,1172.4 915.7,1174.9C918.7,1177.4 921.7,1183.3 924.7,1186.1C927.6,1188.9 931.2,1189.2 933.6,1191.7C936.0,1194.1 938.3,1199.1 939.2,1200.6" stroke="#d62728" stroke-width="2.08" fill="none" stroke-linejoin="round" stroke-linecap="square"/><path d="M118.9,1284.5C121.2,1280.2 128.3,1265.9 132.4,1258.8C136.5,1251.7 139.8,1246.5 143.5,1242.0C147.3,1237.5 150.6,1234.4 154.7,1231.9C158.8,1229.5 164.4,1228.0 168.1,1227.3C171.9,1226.5 173.7,1227.3 177.1,1227.5C180.4,1227.7 184.2,1228.1 188.3,1228.6C192.4,1229.1 197.2,1229.8 201.7,1230.6C206.2,1231.4 211.8,1233.0 215.1,1233.3C218.5,1233.6 218.8,1232.7 221.8,1232.4C224.8,1232.1 229.6,1231.8 233.0,1231.7C236.4,1231.7 238.6,1231.6 241.9,1232.2C245.3,1232.8 249.0,1234.3 253.1,1235.3C257.2,1236.3 262.8,1237.2 266.6,1238.2C270.3,1239.2 272.9,1239.9 275.5,1241.3C278.1,1242.8 280.3,1245.3 282.2,1246.9C284.1,1248.5 285.2,1250.8 286.7,1251.0C288.2,1251.1 288.9,1249.7 291.2,1247.6C293.4,1245.6 296.7,1241.0 300.1,1238.7C303.5,1236.3 307.6,1234.4 311.3,1233.3C315.0,1232.2 318.7,1232.1 322.5,1232.2C326.2,1232.2 330.3,1233.3 333.6,1233.7C337.0,1234.1 338.9,1234.0 342.6,1234.6C346.3,1235.2 351.9,1237.2 356.0,1237.3C360.1,1237.4 362.7,1235.7 367.2,1235.3C371.7,1234.9 377.3,1234.9 382.8,1235.1C388.4,1235.3 395.1,1236.0 400.7,1236.6C406.3,1237.2 411.5,1238.0 416.4,1238.7C421.2,1239.3 425.7,1240.4 429.8,1240.4C433.9,1240.5 436.5,1239.7 441.0,1239.1C445.5,1238.5 451.4,1236.9 456.6,1236.9C461.9,1236.9 467.1,1238.5 472.3,1239.1C477.5,1239.7 482.7,1240.3 488.0,1240.4C493.2,1240.6 498.5,1239.8 503.6,1239.8C508.7,1239.8 514.0,1240.0 518.5,1240.4C523.0,1240.9 525.9,1242.2 530.6,1242.4C535.3,1242.7 541.1,1241.5 546.8,1241.7C552.5,1242.0 558.8,1243.5 564.7,1243.8C570.7,1244.0 575.1,1243.4 582.6,1243.3C590.1,1243.2 603.5,1243.4 609.4,1243.3C615.4,1243.2 612.4,1242.8 618.4,1242.6C624.3,1242.5 635.5,1242.4 645.2,1242.4C654.9,1242.4 666.4,1242.8 676.5,1242.6C686.6,1242.5 698.1,1241.3 705.6,1241.5C713.0,1241.8 714.9,1243.3 721.2,1244.2C727.5,1245.1 737.2,1245.9 743.6,1246.7C749.9,1247.4 755.1,1247.5 759.2,1248.7C763.3,1249.9 765.2,1252.3 768.2,1253.8C771.1,1255.4 773.8,1257.7 777.1,1258.1C780.5,1258.4 785.3,1256.6 788.3,1256.1C791.3,1255.5 791.6,1255.8 795.0,1254.9C798.3,1254.1 803.9,1251.7 808.4,1251.1C812.9,1250.6 815.9,1251.5 821.8,1251.8C827.8,1252.1 837.1,1252.7 844.2,1252.9C851.3,1253.2 857.6,1253.1 864.3,1253.4C871.0,1253.6 877.7,1254.3 884.4,1254.5C891.1,1254.6 899.3,1253.9 904.5,1254.3C909.8,1254.7 912.0,1255.5 915.7,1256.9C919.4,1258.4 923.5,1260.9 926.9,1263.2C930.2,1265.6 933.8,1269.0 935.8,1271.0C937.9,1273.1 938.6,1274.8 939.2,1275.5" stroke="#9467bd" stroke-width="2.08" fill="none" stroke-linejoin="round" stroke-linecap="square"/><path d="M118.9,1398.6C121.2,1396.1 128.3,1388.7 132.4,1384.0C136.5,1379.4 139.8,1374.3 143.5,1370.6C147.3,1367.0 151.4,1364.0 154.7,1362.1C158.1,1360.2 159.9,1359.9 163.7,1359.4C167.4,1358.9 173.7,1359.2 177.1,1359.2C180.4,1359.2 181.2,1359.5 183.8,1359.4C186.4,1359.4 189.4,1358.9 192.7,1359.0C196.1,1359.1 199.8,1359.5 203.9,1359.9C208.0,1360.2 212.1,1360.8 217.3,1361.0C222.6,1361.1 230.8,1360.7 235.2,1360.8C239.7,1360.8 240.5,1360.9 244.2,1361.2C247.9,1361.5 253.9,1362.4 257.6,1362.6C261.3,1362.7 262.8,1362.4 266.6,1362.1C270.3,1361.8 275.1,1360.9 280.0,1360.5C284.8,1360.2 291.2,1360.0 295.6,1360.1C300.1,1360.2 302.7,1360.9 306.8,1361.2C310.9,1361.6 315.8,1362.0 320.2,1362.1C324.7,1362.2 329.9,1361.8 333.6,1361.7C337.4,1361.5 338.9,1361.3 342.6,1361.2C346.3,1361.1 350.0,1361.0 356.0,1361.2C362.0,1361.5 371.3,1362.6 378.4,1362.8C385.5,1363.0 392.5,1362.2 398.5,1362.3C404.5,1362.4 408.6,1362.9 414.2,1363.5C419.7,1364.0 426.1,1365.2 432.0,1365.7C438.0,1366.2 445.5,1366.4 449.9,1366.6C454.4,1366.8 455.2,1366.5 458.9,1366.8C462.6,1367.1 467.8,1367.8 472.3,1368.4C476.8,1368.9 480.5,1369.6 485.7,1370.2C490.9,1370.7 498.1,1371.0 503.6,1371.5C509.1,1372.1 514.0,1373.0 518.5,1373.5C523.0,1374.0 525.9,1374.7 530.6,1374.6C535.3,1374.5 542.3,1373.0 546.8,1373.0C551.4,1373.0 554.7,1373.7 558.0,1374.5C561.4,1375.4 564.0,1376.8 566.9,1377.9C569.9,1379.0 572.2,1381.2 575.9,1381.0C579.6,1380.8 584.8,1377.3 589.3,1376.6C593.8,1375.8 598.2,1376.5 602.7,1376.8C607.2,1377.1 612.0,1378.0 616.1,1378.3C620.2,1378.6 624.0,1377.8 627.3,1378.6C630.7,1379.3 633.1,1380.9 636.3,1382.8C639.4,1384.8 642.6,1390.1 646.3,1390.2C650.0,1390.3 654.3,1384.9 658.6,1383.5C662.9,1382.1 667.6,1382.1 672.0,1381.9C676.5,1381.7 681.2,1381.7 685.4,1382.1C689.7,1382.6 693.6,1384.7 697.7,1384.4C701.8,1384.0 705.0,1381.0 710.0,1380.1C715.1,1379.2 720.1,1379.2 727.9,1379.0C735.7,1378.9 748.8,1378.5 757.0,1379.2C765.2,1380.0 772.3,1382.9 777.1,1383.7C781.9,1384.6 782.7,1383.6 786.0,1384.4C789.4,1385.2 793.1,1388.9 797.2,1388.4C801.3,1387.9 806.2,1382.9 810.6,1381.5C815.1,1380.1 818.5,1380.1 824.1,1379.9C829.6,1379.7 837.8,1380.2 844.2,1380.4C850.5,1380.5 856.5,1380.4 862.1,1380.8C867.6,1381.2 872.1,1383.0 877.7,1382.8C883.3,1382.6 889.6,1380.0 895.6,1379.7C901.6,1379.3 908.3,1379.8 913.5,1380.8C918.7,1381.8 922.6,1383.5 926.9,1385.7C931.2,1387.9 937.1,1392.6 939.2,1394.0" stroke="#8c564b" stroke-width="2.08" fill="none" stroke-linejoin="round" stroke-linecap="square"/></g><g clip-path="url(#cb2)"><path d="M982.4,1242.0C983.4,1240.3 985.9,1234.6 988.4,1231.9C990.9,1229.3 994.4,1227.2 997.4,1225.9C1000.3,1224.6 1002.6,1224.3 1006.3,1224.3C1010.0,1224.4 1014.9,1225.7 1019.7,1226.4C1024.6,1227.0 1030.5,1227.9 1035.4,1228.1C1040.2,1228.4 1044.0,1228.2 1048.8,1227.9C1053.6,1227.6 1060.0,1226.5 1064.5,1226.4C1068.9,1226.2 1071.9,1226.4 1075.6,1226.8C1079.4,1227.2 1082.7,1228.0 1086.8,1228.6C1090.9,1229.2 1095.8,1230.0 1100.2,1230.4C1104.7,1230.8 1108.4,1230.5 1113.7,1231.1C1118.9,1231.6 1126.3,1232.9 1131.6,1233.5C1136.8,1234.1 1140.5,1234.4 1145.0,1234.6C1149.4,1234.9 1154.3,1234.7 1158.4,1235.1C1162.5,1235.5 1165.1,1236.2 1169.6,1236.9C1174.0,1237.5 1178.9,1238.6 1185.2,1239.1C1191.6,1239.6 1201.6,1239.6 1207.6,1239.8C1213.6,1240.0 1216.5,1239.9 1221.0,1240.2C1225.5,1240.5 1229.6,1241.0 1234.4,1241.6C1239.3,1242.1 1244.5,1243.2 1250.1,1243.4C1255.7,1243.5 1262.4,1242.6 1268.0,1242.7C1273.6,1242.7 1278.8,1243.3 1283.6,1243.6C1288.5,1243.9 1292.6,1244.3 1297.0,1244.5C1301.5,1244.6 1306.4,1244.7 1310.5,1244.5C1314.6,1244.3 1316.4,1243.4 1321.6,1243.4C1326.9,1243.3 1335.4,1244.0 1341.8,1244.0C1348.1,1244.1 1353.7,1243.5 1359.7,1243.8C1365.6,1244.1 1373.3,1245.2 1377.6,1245.6C1381.8,1246.0 1382.1,1246.3 1385.0,1246.4C1387.9,1246.6 1392.8,1246.5 1395.0,1246.5C1397.2,1246.5 1394.9,1246.6 1398.4,1246.4C1402.0,1246.2 1410.3,1245.2 1416.3,1245.3C1422.3,1245.4 1427.5,1246.4 1434.2,1246.9C1440.9,1247.3 1450.6,1247.6 1456.5,1248.0C1462.5,1248.4 1465.5,1249.0 1470.0,1249.6C1474.4,1250.1 1477.4,1250.9 1483.4,1251.4C1489.3,1251.8 1499.0,1251.7 1505.7,1252.0C1512.4,1252.4 1518.4,1252.9 1523.6,1253.4C1528.8,1253.9 1531.8,1254.2 1537.0,1254.9C1542.2,1255.7 1548.6,1257.2 1554.9,1257.8C1561.2,1258.4 1569.1,1257.9 1575.0,1258.5C1581.0,1259.1 1585.1,1260.4 1590.7,1261.4C1596.3,1262.4 1603.4,1263.7 1608.6,1264.3C1613.8,1265.0 1617.5,1264.7 1622.0,1265.2C1626.5,1265.7 1630.2,1266.6 1635.4,1267.5C1640.6,1268.3 1648.1,1269.8 1653.3,1270.4C1658.5,1270.9 1662.2,1270.8 1666.7,1270.8C1671.2,1270.8 1675.6,1270.1 1680.1,1270.4C1684.6,1270.6 1689.4,1271.5 1693.5,1272.1C1697.6,1272.8 1701.0,1273.9 1704.7,1274.4C1708.4,1274.9 1711.4,1275.1 1715.9,1275.1C1720.4,1275.0 1725.6,1274.3 1731.5,1274.2C1737.5,1274.0 1744.2,1273.8 1751.7,1274.2C1759.1,1274.6 1770.3,1275.5 1776.2,1276.6C1782.2,1277.8 1784.1,1279.2 1787.4,1281.1C1790.8,1283.0 1793.9,1285.3 1796.4,1287.8C1798.8,1290.3 1801.0,1294.9 1802.0,1296.3" stroke="#1f77b4" stroke-width="2.08" fill="none" stroke-linejoin="round" stroke-linecap="square"/><path d="M982.4,1183.9C983.4,1181.6 985.9,1173.8 988.4,1170.4C990.9,1167.1 994.4,1165.2 997.4,1163.7C1000.3,1162.3 1002.6,1162.1 1006.3,1161.9C1010.0,1161.8 1014.9,1162.2 1019.7,1162.6C1024.6,1163.0 1030.5,1164.2 1035.4,1164.4C1040.2,1164.6 1044.0,1164.4 1048.8,1164.0C1053.6,1163.5 1060.4,1161.9 1064.5,1161.7C1068.6,1161.5 1068.9,1161.8 1073.4,1162.6C1077.9,1163.4 1085.3,1165.8 1091.3,1166.6C1097.3,1167.5 1102.5,1167.1 1109.2,1167.5C1115.9,1168.0 1124.8,1168.9 1131.6,1169.3C1138.3,1169.7 1144.2,1169.9 1149.4,1170.0C1154.7,1170.1 1158.4,1169.7 1162.9,1169.8C1167.3,1169.9 1171.8,1170.4 1176.3,1170.7C1180.8,1171.0 1185.2,1171.6 1189.7,1171.6C1194.2,1171.6 1198.6,1171.0 1203.1,1170.7C1207.6,1170.3 1212.8,1169.5 1216.5,1169.3C1220.3,1169.2 1221.0,1169.1 1225.5,1169.8C1230.0,1170.4 1238.2,1172.5 1243.4,1173.1C1248.6,1173.8 1253.1,1173.6 1256.8,1173.6C1260.5,1173.6 1260.5,1172.8 1265.7,1173.1C1271.0,1173.4 1281.8,1174.9 1288.1,1175.4C1294.4,1175.9 1298.9,1176.1 1303.8,1176.0C1308.6,1176.0 1312.3,1175.2 1317.2,1175.1C1322.0,1175.1 1326.5,1175.3 1332.8,1175.6C1339.2,1175.9 1348.5,1176.4 1355.2,1176.9C1361.9,1177.5 1368.2,1178.4 1373.1,1178.9C1378.0,1179.5 1381.0,1179.9 1384.6,1180.1C1388.3,1180.2 1392.7,1180.0 1395.0,1180.1C1397.3,1180.1 1394.9,1180.4 1398.4,1180.3C1402.0,1180.1 1410.3,1179.3 1416.3,1179.4C1422.3,1179.5 1428.2,1180.6 1434.2,1180.9C1440.1,1181.3 1446.5,1181.1 1452.1,1181.4C1457.7,1181.7 1462.5,1182.1 1467.7,1182.7C1472.9,1183.3 1479.3,1184.6 1483.4,1185.0C1487.5,1185.3 1488.2,1185.1 1492.3,1185.0C1496.4,1184.8 1503.1,1184.1 1508.0,1184.1C1512.8,1184.0 1516.5,1184.2 1521.4,1184.5C1526.2,1184.8 1531.4,1185.2 1537.0,1186.1C1542.6,1186.9 1549.0,1188.8 1554.9,1189.7C1560.9,1190.5 1566.8,1190.4 1572.8,1191.0C1578.8,1191.6 1584.7,1192.5 1590.7,1193.2C1596.6,1193.9 1602.6,1194.5 1608.6,1195.2C1614.5,1195.9 1620.9,1196.8 1626.5,1197.5C1632.0,1198.2 1636.9,1198.9 1642.1,1199.5C1647.3,1200.1 1652.2,1200.8 1657.8,1201.1C1663.3,1201.3 1670.4,1200.6 1675.6,1200.8C1680.9,1201.1 1683.8,1201.8 1689.1,1202.6C1694.3,1203.4 1702.8,1205.1 1706.9,1205.5C1711.0,1206.0 1709.5,1205.6 1713.6,1205.3C1717.7,1205.0 1725.9,1203.9 1731.5,1203.5C1737.1,1203.1 1740.1,1203.0 1747.2,1202.8C1754.3,1202.7 1767.7,1202.3 1774.0,1202.8C1780.3,1203.4 1781.8,1204.3 1785.2,1206.2C1788.5,1208.1 1791.3,1210.7 1794.1,1214.0C1796.9,1217.4 1800.7,1224.3 1802.0,1226.3" stroke="#ff7f0e" stroke-width="2.08" fill="none" stroke-linejoin="round" stroke-linecap="square"/><path d="M982.4,1139.1C983.4,1136.9 986.3,1128.9 988.4,1125.7C990.5,1122.6 992.7,1121.4 995.1,1120.1C997.6,1118.9 1000.3,1118.4 1003.0,1118.3C1005.6,1118.3 1008.0,1119.1 1010.8,1119.7C1013.6,1120.3 1016.4,1121.3 1019.7,1121.9C1023.1,1122.6 1027.2,1123.1 1030.9,1123.5C1034.6,1123.9 1038.7,1124.3 1042.1,1124.4C1045.4,1124.4 1048.1,1124.2 1051.0,1123.7C1054.0,1123.3 1056.6,1122.2 1060.0,1121.7C1063.3,1121.2 1067.8,1120.8 1071.2,1120.8C1074.5,1120.8 1077.1,1121.3 1080.1,1121.7C1083.1,1122.1 1085.7,1122.9 1089.1,1123.3C1092.4,1123.6 1096.1,1123.6 1100.2,1123.7C1104.3,1123.8 1107.7,1123.6 1113.7,1123.7C1119.6,1123.8 1130.1,1124.4 1136.0,1124.4C1142.0,1124.4 1145.0,1124.0 1149.4,1123.7C1153.9,1123.4 1158.4,1122.9 1162.9,1122.8C1167.3,1122.7 1171.8,1123.1 1176.3,1123.3C1180.8,1123.4 1183.7,1123.8 1189.7,1123.9C1195.7,1124.1 1205.7,1123.9 1212.1,1124.2C1218.4,1124.4 1222.5,1124.6 1227.7,1125.3C1232.9,1125.9 1237.0,1127.7 1243.4,1128.2C1249.7,1128.7 1259.0,1128.1 1265.7,1128.4C1272.4,1128.7 1278.0,1129.6 1283.6,1130.0C1289.2,1130.4 1293.7,1130.9 1299.3,1130.9C1304.9,1130.8 1310.8,1129.6 1317.2,1129.5C1323.5,1129.4 1331.0,1129.9 1337.3,1130.2C1343.6,1130.5 1350.0,1130.8 1355.2,1131.1C1360.4,1131.4 1363.9,1131.7 1368.6,1132.2C1373.3,1132.7 1379.1,1133.7 1383.5,1133.9C1387.9,1134.0 1391.4,1133.3 1395.0,1133.1C1398.6,1132.9 1401.2,1132.7 1405.1,1132.9C1409.0,1133.0 1413.7,1133.3 1418.5,1134.0C1423.4,1134.7 1428.6,1136.4 1434.2,1136.9C1439.8,1137.4 1445.4,1136.9 1452.1,1137.1C1458.8,1137.3 1468.1,1137.7 1474.4,1138.0C1480.8,1138.3 1485.6,1138.7 1490.1,1138.7C1494.5,1138.7 1496.8,1138.2 1501.3,1138.0C1505.7,1137.8 1512.1,1137.4 1516.9,1137.6C1521.7,1137.7 1524.7,1138.5 1530.3,1139.1C1535.9,1139.8 1543.0,1140.8 1550.4,1141.4C1557.9,1142.0 1566.8,1141.9 1575.0,1142.7C1583.2,1143.5 1592.2,1145.4 1599.6,1146.3C1607.1,1147.2 1613.8,1147.2 1619.7,1148.1C1625.7,1148.9 1629.8,1150.4 1635.4,1151.4C1641.0,1152.5 1647.7,1153.4 1653.3,1154.3C1658.9,1155.2 1663.3,1156.4 1668.9,1156.8C1674.5,1157.2 1680.9,1156.4 1686.8,1156.8C1692.8,1157.2 1699.9,1158.7 1704.7,1159.0C1709.5,1159.3 1711.8,1159.2 1715.9,1158.6C1720.0,1157.9 1724.8,1155.6 1729.3,1155.0C1733.8,1154.4 1738.2,1154.6 1742.7,1154.8C1747.2,1154.9 1751.3,1155.7 1756.1,1155.9C1761.0,1156.0 1767.3,1155.1 1771.8,1155.7C1776.2,1156.2 1779.6,1157.5 1783.0,1159.2C1786.3,1161.0 1789.5,1163.5 1791.9,1166.0C1794.3,1168.4 1795.8,1171.0 1797.5,1173.8C1799.2,1176.6 1801.2,1181.2 1802.0,1182.7" stroke="#2ca02c" stroke-width="2.08" fill="none" stroke-linejoin="round" stroke-linecap="square"/><path d="M982.4,1150.3C983.4,1148.1 985.9,1140.4 988.4,1136.9C990.9,1133.4 994.4,1131.0 997.4,1129.5C1000.3,1128.0 1002.6,1127.9 1006.3,1128.0C1010.0,1128.0 1015.3,1129.0 1019.7,1129.7C1024.2,1130.5 1028.3,1131.8 1033.1,1132.4C1038.0,1133.1 1044.3,1133.5 1048.8,1133.5C1053.3,1133.5 1056.3,1132.6 1060.0,1132.4C1063.7,1132.3 1067.4,1132.4 1071.2,1132.7C1074.9,1133.0 1078.6,1133.7 1082.3,1134.2C1086.1,1134.8 1089.1,1135.8 1093.5,1136.0C1098.0,1136.2 1104.3,1135.5 1109.2,1135.3C1114.0,1135.1 1115.1,1134.9 1122.6,1134.9C1130.1,1134.9 1147.2,1135.4 1153.9,1135.3C1160.6,1135.3 1158.4,1134.6 1162.9,1134.4C1167.3,1134.3 1174.8,1134.7 1180.8,1134.7C1186.7,1134.6 1193.1,1134.3 1198.6,1134.0C1204.2,1133.7 1209.5,1132.8 1214.3,1132.9C1219.1,1132.9 1222.9,1133.5 1227.7,1134.2C1232.6,1135.0 1239.3,1136.8 1243.4,1137.3C1247.5,1137.9 1248.6,1137.9 1252.3,1137.8C1256.0,1137.7 1261.6,1136.7 1265.7,1136.7C1269.8,1136.6 1273.2,1137.1 1276.9,1137.6C1280.6,1138.1 1283.3,1138.9 1288.1,1139.8C1292.9,1140.7 1300.8,1142.7 1306.0,1142.9C1311.2,1143.2 1315.7,1141.4 1319.4,1141.2C1323.1,1140.9 1324.6,1141.0 1328.4,1141.6C1332.1,1142.2 1338.0,1143.5 1341.8,1144.7C1345.5,1146.0 1347.7,1149.0 1350.7,1149.2C1353.7,1149.4 1357.1,1146.7 1359.7,1146.1C1362.3,1145.4 1363.8,1145.3 1366.4,1145.4C1369.0,1145.5 1372.3,1146.1 1375.3,1146.5C1378.4,1147.0 1381.4,1148.2 1384.6,1148.2C1387.9,1148.1 1392.7,1146.6 1395.0,1146.3C1397.3,1145.9 1395.2,1146.3 1398.4,1146.1C1401.6,1145.8 1409.2,1144.6 1414.1,1144.7C1418.9,1144.8 1423.4,1146.0 1427.5,1146.5C1431.6,1147.0 1434.9,1147.0 1438.7,1147.6C1442.4,1148.3 1446.5,1149.6 1449.8,1150.3C1453.2,1151.0 1455.4,1151.8 1458.8,1152.1C1462.1,1152.4 1465.1,1151.7 1470.0,1151.9C1474.8,1152.1 1481.9,1153.0 1487.8,1153.2C1493.8,1153.4 1500.5,1153.1 1505.7,1153.2C1510.9,1153.3 1513.9,1153.2 1519.1,1153.9C1524.4,1154.6 1531.1,1156.1 1537.0,1157.2C1543.0,1158.4 1549.0,1159.8 1554.9,1160.8C1560.9,1161.8 1568.3,1162.4 1572.8,1163.3C1577.3,1164.1 1578.4,1164.8 1581.7,1166.0C1585.1,1167.1 1588.8,1169.2 1592.9,1170.4C1597.0,1171.7 1601.5,1173.0 1606.3,1173.3C1611.2,1173.7 1617.1,1172.3 1622.0,1172.7C1626.8,1173.0 1631.7,1174.4 1635.4,1175.6C1639.1,1176.7 1641.4,1177.8 1644.3,1179.4C1647.3,1180.9 1651.0,1183.7 1653.3,1185.0C1655.5,1186.2 1655.5,1186.8 1657.8,1186.7C1660.0,1186.7 1663.0,1185.3 1666.7,1184.5C1670.4,1183.8 1676.0,1182.5 1680.1,1182.3C1684.2,1182.0 1687.6,1182.5 1691.3,1183.2C1695.0,1183.8 1699.1,1185.4 1702.5,1186.1C1705.8,1186.7 1707.3,1187.4 1711.4,1187.2C1715.5,1187.0 1721.8,1185.3 1727.1,1185.0C1732.3,1184.6 1736.4,1185.1 1742.7,1185.2C1749.0,1185.3 1759.9,1185.3 1765.1,1185.4C1770.3,1185.5 1770.7,1185.0 1774.0,1185.6C1777.4,1186.3 1781.8,1187.7 1785.2,1189.4C1788.5,1191.2 1791.3,1192.8 1794.1,1196.1C1796.9,1199.5 1800.7,1207.3 1802.0,1209.5" stroke="#d62728" stroke-width="2.08" fill="none" stroke-linejoin="round" stroke-linecap="square"/><path d="M982.4,1251.0C983.4,1249.1 985.9,1242.7 988.4,1239.8C990.9,1236.9 994.6,1234.9 997.4,1233.5C1000.2,1232.2 1002.6,1231.8 1005.2,1231.7C1007.8,1231.7 1010.2,1232.3 1013.0,1233.1C1015.8,1233.9 1019.4,1235.1 1022.0,1236.4C1024.6,1237.7 1026.4,1238.8 1028.7,1240.9C1030.9,1242.9 1033.0,1245.9 1035.4,1248.7C1037.8,1251.6 1041.0,1257.6 1043.2,1258.1C1045.4,1258.7 1046.8,1254.9 1048.8,1252.1C1050.9,1249.2 1052.9,1244.3 1055.5,1240.9C1058.1,1237.5 1061.5,1234.0 1064.5,1231.9C1067.4,1229.9 1070.4,1229.3 1073.4,1228.8C1076.4,1228.4 1079.0,1228.9 1082.3,1229.3C1085.7,1229.7 1089.1,1231.0 1093.5,1231.3C1098.0,1231.5 1102.8,1230.9 1109.2,1230.8C1115.5,1230.8 1124.1,1230.9 1131.6,1231.1C1139.0,1231.2 1146.5,1231.3 1153.9,1231.5C1161.4,1231.7 1168.8,1232.3 1176.3,1232.4C1183.7,1232.5 1192.7,1232.1 1198.6,1231.9C1204.6,1231.8 1207.2,1231.2 1212.1,1231.3C1216.9,1231.3 1222.5,1231.9 1227.7,1232.2C1232.9,1232.5 1238.9,1233.1 1243.4,1233.1C1247.8,1233.0 1250.5,1232.4 1254.6,1231.9C1258.7,1231.5 1262.4,1230.8 1268.0,1230.6C1273.6,1230.5 1282.1,1231.0 1288.1,1231.1C1294.1,1231.1 1298.9,1231.0 1303.8,1230.8C1308.6,1230.6 1312.3,1229.8 1317.2,1229.9C1322.0,1230.0 1326.5,1231.1 1332.8,1231.5C1339.2,1231.9 1349.2,1232.1 1355.2,1232.6C1361.2,1233.1 1363.9,1233.7 1368.6,1234.4C1373.3,1235.1 1379.1,1236.5 1383.5,1236.7C1387.9,1237.0 1392.5,1235.9 1395.0,1235.8C1397.5,1235.6 1394.9,1236.0 1398.4,1235.7C1402.0,1235.4 1410.3,1234.3 1416.3,1234.1C1422.3,1234.0 1429.0,1234.7 1434.2,1235.0C1439.4,1235.3 1443.1,1235.6 1447.6,1235.9C1452.1,1236.3 1457.3,1237.1 1461.0,1237.3C1464.7,1237.5 1466.2,1236.8 1470.0,1237.0C1473.7,1237.3 1479.6,1238.2 1483.4,1238.6C1487.1,1239.0 1488.6,1239.4 1492.3,1239.5C1496.0,1239.6 1500.5,1239.1 1505.7,1239.3C1510.9,1239.4 1518.4,1240.0 1523.6,1240.4C1528.8,1240.8 1532.2,1241.0 1537.0,1241.7C1541.9,1242.5 1546.3,1244.0 1552.7,1244.6C1559.0,1245.3 1569.4,1245.4 1575.0,1245.8C1580.6,1246.1 1582.1,1246.4 1586.2,1246.9C1590.3,1247.4 1594.0,1248.2 1599.6,1248.9C1605.2,1249.6 1613.8,1250.5 1619.7,1251.4C1625.7,1252.2 1629.1,1253.3 1635.4,1254.0C1641.7,1254.8 1650.3,1255.9 1657.8,1256.1C1665.2,1256.2 1674.1,1254.7 1680.1,1254.7C1686.1,1254.7 1689.1,1255.5 1693.5,1256.1C1698.0,1256.6 1702.8,1257.6 1706.9,1257.8C1711.0,1258.1 1714.0,1257.9 1718.1,1257.6C1722.2,1257.3 1726.7,1256.2 1731.5,1256.1C1736.4,1255.9 1741.6,1256.1 1747.2,1256.5C1752.8,1256.9 1760.2,1258.0 1765.1,1258.5C1769.9,1259.0 1772.9,1258.7 1776.2,1259.6C1779.6,1260.6 1782.2,1262.2 1785.2,1264.3C1788.2,1266.4 1791.3,1269.2 1794.1,1272.1C1796.9,1275.1 1800.7,1280.5 1802.0,1282.2" stroke="#9467bd" stroke-width="2.08" fill="none" stroke-linejoin="round" stroke-linecap="square"/><path d="M982.4,1397.9C983.4,1396.9 986.3,1393.4 988.4,1391.9C990.5,1390.3 993.3,1389.0 995.1,1388.5C997.0,1388.0 997.9,1388.6 999.6,1388.9C1001.3,1389.2 1003.3,1390.4 1005.2,1390.3C1007.1,1390.1 1008.4,1388.9 1010.8,1388.1C1013.2,1387.2 1016.0,1385.9 1019.7,1384.9C1023.5,1384.0 1028.3,1383.1 1033.1,1382.5C1038.0,1381.8 1043.6,1381.6 1048.8,1380.9C1054.0,1380.2 1060.7,1378.9 1064.5,1378.4C1068.2,1378.0 1067.8,1378.0 1071.2,1378.2C1074.5,1378.5 1079.7,1379.7 1084.6,1380.0C1089.4,1380.3 1095.4,1379.9 1100.2,1379.8C1105.1,1379.7 1107.7,1379.2 1113.7,1379.3C1119.6,1379.4 1128.6,1380.4 1136.0,1380.4C1143.5,1380.5 1151.7,1379.6 1158.4,1379.6C1165.1,1379.5 1171.1,1380.1 1176.3,1380.0C1181.5,1379.9 1183.0,1379.3 1189.7,1378.9C1196.4,1378.5 1207.6,1377.8 1216.5,1377.8C1225.5,1377.7 1235.2,1378.4 1243.4,1378.4C1251.6,1378.4 1258.3,1377.8 1265.7,1377.8C1273.2,1377.7 1282.1,1378.3 1288.1,1378.2C1294.1,1378.1 1296.7,1377.8 1301.5,1377.3C1306.4,1376.8 1312.0,1375.5 1317.2,1375.1C1322.4,1374.6 1326.5,1374.7 1332.8,1374.6C1339.2,1374.6 1349.2,1374.4 1355.2,1374.6C1361.2,1374.8 1364.9,1375.5 1368.6,1375.8C1372.3,1376.1 1374.8,1376.3 1377.6,1376.4C1380.3,1376.5 1382.1,1376.4 1385.0,1376.3C1387.9,1376.3 1392.0,1376.1 1395.0,1376.0C1398.0,1375.8 1399.0,1375.6 1402.9,1375.4C1406.8,1375.2 1412.2,1374.7 1418.5,1374.8C1424.9,1374.9 1432.3,1375.7 1440.9,1376.1C1449.5,1376.5 1462.1,1376.8 1470.0,1377.2C1477.8,1377.6 1481.1,1378.4 1487.8,1378.6C1494.5,1378.7 1503.5,1378.0 1510.2,1378.1C1516.9,1378.3 1521.4,1378.9 1528.1,1379.5C1534.8,1380.0 1542.6,1381.0 1550.4,1381.2C1558.3,1381.5 1566.1,1380.5 1575.0,1380.8C1584.0,1381.1 1596.3,1382.8 1604.1,1383.0C1611.9,1383.3 1615.6,1382.0 1622.0,1382.1C1628.3,1382.3 1636.1,1383.2 1642.1,1383.7C1648.1,1384.2 1651.4,1385.2 1657.8,1385.0C1664.1,1384.9 1673.4,1382.9 1680.1,1382.8C1686.8,1382.7 1691.3,1384.2 1698.0,1384.6C1704.7,1385.0 1715.1,1384.9 1720.4,1385.5C1725.6,1386.1 1726.7,1387.0 1729.3,1388.4C1731.9,1389.8 1733.8,1392.3 1736.0,1394.0C1738.2,1395.7 1740.1,1398.7 1742.7,1398.5C1745.3,1398.3 1748.3,1394.9 1751.7,1392.9C1755.0,1390.8 1758.7,1387.7 1762.8,1386.2C1766.9,1384.7 1772.1,1383.9 1776.2,1383.9C1780.3,1383.9 1784.1,1384.9 1787.4,1386.2C1790.8,1387.4 1793.9,1389.3 1796.4,1391.3C1798.8,1393.3 1801.0,1396.9 1802.0,1398.0" stroke="#8c564b" stroke-width="2.08" fill="none" stroke-linejoin="round" stroke-linecap="square"/></g><g clip-path="url(#cb3)"><path d="M1845.4,1229.3C1846.4,1227.8 1848.9,1222.8 1851.4,1220.8C1853.9,1218.8 1857.4,1217.9 1860.4,1217.2C1863.3,1216.5 1865.6,1216.3 1869.3,1216.5C1873.0,1216.7 1878.6,1218.2 1882.7,1218.5C1886.8,1218.9 1890.2,1218.9 1893.9,1218.8C1897.6,1218.6 1900.2,1217.9 1905.1,1217.4C1909.9,1216.9 1917.4,1215.9 1923.0,1215.6C1928.6,1215.4 1932.3,1215.6 1938.6,1215.8C1945.0,1216.1 1954.7,1216.7 1961.0,1217.2C1967.3,1217.7 1971.1,1218.0 1976.7,1218.8C1982.3,1219.5 1987.8,1220.8 1994.6,1221.7C2001.3,1222.5 2011.0,1222.9 2016.9,1223.7C2022.9,1224.4 2025.9,1225.4 2030.3,1226.1C2034.8,1226.8 2038.5,1227.4 2043.8,1227.9C2049.0,1228.4 2056.1,1228.7 2061.6,1229.0C2067.2,1229.3 2071.3,1229.3 2077.3,1229.7C2083.3,1230.2 2089.6,1231.1 2097.4,1231.7C2105.3,1232.3 2117.2,1232.6 2124.3,1233.3C2131.3,1234.0 2134.7,1235.1 2139.9,1236.0C2145.1,1236.9 2149.2,1238.0 2155.6,1238.7C2161.9,1239.4 2172.0,1239.7 2177.9,1240.2C2183.9,1240.8 2186.1,1241.1 2191.4,1242.0C2196.6,1242.9 2203.3,1245.0 2209.2,1245.8C2215.2,1246.7 2221.9,1246.7 2227.1,1247.2C2232.4,1247.6 2236.7,1248.3 2240.6,1248.7C2244.4,1249.2 2247.1,1249.4 2250.0,1249.8C2252.9,1250.2 2255.8,1250.8 2258.0,1251.0C2260.2,1251.1 2259.5,1250.5 2263.4,1250.9C2267.3,1251.3 2276.1,1252.3 2281.3,1253.6C2286.5,1254.9 2290.2,1256.9 2294.7,1258.7C2299.2,1260.6 2303.7,1262.6 2308.1,1264.5C2312.6,1266.5 2317.1,1268.6 2321.5,1270.4C2326.0,1272.1 2330.5,1273.9 2335.0,1275.3C2339.4,1276.6 2344.3,1277.4 2348.4,1278.4C2352.5,1279.4 2355.8,1280.4 2359.5,1281.1C2363.3,1281.8 2366.6,1281.7 2370.7,1282.7C2374.8,1283.6 2379.7,1285.3 2384.1,1286.7C2388.6,1288.0 2393.1,1289.2 2397.6,1290.7C2402.0,1292.2 2405.8,1294.8 2411.0,1295.6C2416.2,1296.4 2424.0,1295.4 2428.9,1295.6C2433.7,1295.8 2435.6,1296.5 2440.0,1296.7C2444.5,1297.0 2451.2,1296.7 2455.7,1297.2C2460.2,1297.7 2462.8,1299.0 2466.9,1299.6C2471.0,1300.3 2476.2,1301.1 2480.3,1301.2C2484.4,1301.4 2487.0,1300.9 2491.5,1300.5C2495.9,1300.2 2502.6,1299.5 2507.1,1299.0C2511.6,1298.5 2512.7,1297.7 2518.3,1297.4C2523.9,1297.1 2534.7,1297.0 2540.6,1297.2C2546.6,1297.3 2548.5,1298.2 2554.1,1298.3C2559.6,1298.5 2569.0,1298.1 2574.2,1298.1C2579.4,1298.1 2581.3,1298.4 2585.4,1298.3C2589.5,1298.2 2594.3,1297.6 2598.8,1297.4C2603.2,1297.2 2608.8,1296.9 2612.2,1297.0C2615.5,1297.0 2615.9,1297.0 2618.9,1297.9C2621.9,1298.8 2626.7,1300.3 2630.1,1302.3C2633.4,1304.4 2635.7,1305.9 2639.0,1310.2C2642.4,1314.4 2646.8,1321.7 2650.2,1328.0C2653.5,1334.4 2656.7,1341.3 2659.1,1348.2C2661.6,1355.1 2663.8,1365.9 2664.7,1369.4" stroke="#1f77b4" stroke-width="2.08" fill="none" stroke-linejoin="round" stroke-linecap="square"/><path d="M1845.4,1163.7C1846.4,1162.2 1848.9,1156.9 1851.4,1154.8C1853.9,1152.7 1857.8,1151.6 1860.4,1151.0C1863.0,1150.4 1864.5,1150.5 1867.1,1151.0C1869.7,1151.4 1871.9,1152.4 1876.0,1153.7C1880.1,1154.9 1886.8,1157.8 1891.7,1158.6C1896.5,1159.4 1899.9,1158.7 1905.1,1158.6C1910.3,1158.4 1916.3,1158.0 1923.0,1157.7C1929.7,1157.4 1939.4,1157.3 1945.3,1157.0C1951.3,1156.8 1954.3,1156.5 1958.8,1156.4C1963.2,1156.2 1966.2,1155.8 1972.2,1155.9C1978.1,1156.1 1987.1,1156.8 1994.6,1157.3C2002.0,1157.7 2011.0,1158.2 2016.9,1158.8C2022.9,1159.5 2025.9,1160.3 2030.3,1161.1C2034.8,1161.8 2038.5,1162.7 2043.8,1163.3C2049.0,1163.9 2055.7,1164.4 2061.6,1164.6C2067.6,1164.9 2073.6,1164.6 2079.5,1164.9C2085.5,1165.1 2090.0,1165.5 2097.4,1166.0C2104.9,1166.4 2117.6,1167.0 2124.3,1167.5C2131.0,1168.1 2132.5,1168.6 2137.7,1169.3C2142.9,1170.1 2150.4,1171.5 2155.6,1172.0C2160.8,1172.6 2163.8,1172.7 2169.0,1172.7C2174.2,1172.7 2181.3,1172.1 2186.9,1172.0C2192.5,1171.9 2197.3,1172.1 2202.5,1172.0C2207.8,1171.9 2213.3,1171.6 2218.2,1171.6C2223.0,1171.5 2227.1,1171.4 2231.6,1171.6C2236.1,1171.8 2242.0,1172.4 2245.0,1172.7C2248.1,1172.9 2247.8,1173.0 2250.0,1173.1C2252.2,1173.2 2255.8,1173.1 2258.0,1173.1C2260.2,1173.2 2260.3,1173.1 2263.4,1173.3C2266.6,1173.5 2271.6,1173.3 2276.8,1174.4C2282.0,1175.6 2288.0,1178.7 2294.7,1180.5C2301.4,1182.3 2309.6,1183.8 2317.1,1185.4C2324.5,1187.0 2332.7,1188.6 2339.4,1189.9C2346.1,1191.1 2351.4,1192.1 2357.3,1193.0C2363.3,1193.9 2369.2,1194.5 2375.2,1195.2C2381.2,1196.0 2387.9,1196.4 2393.1,1197.5C2398.3,1198.6 2400.5,1199.7 2406.5,1201.7C2412.5,1203.7 2422.9,1207.1 2428.9,1209.5C2434.8,1212.0 2437.1,1213.8 2442.3,1216.3C2447.5,1218.7 2454.9,1221.7 2460.2,1224.1C2465.4,1226.5 2469.1,1228.3 2473.6,1230.6C2478.0,1232.8 2483.6,1235.7 2487.0,1237.5C2490.3,1239.3 2490.7,1239.8 2493.7,1241.3C2496.7,1242.8 2500.8,1244.8 2504.9,1246.4C2509.0,1248.1 2514.9,1250.4 2518.3,1251.4C2521.6,1252.3 2522.0,1252.1 2525.0,1252.0C2528.0,1252.0 2532.4,1251.1 2536.2,1250.9C2539.9,1250.8 2543.6,1250.9 2547.3,1251.1C2551.1,1251.4 2554.4,1252.0 2558.5,1252.5C2562.6,1252.9 2568.2,1254.0 2571.9,1253.8C2575.7,1253.7 2577.9,1252.5 2580.9,1251.6C2583.9,1250.6 2586.1,1249.0 2589.8,1248.0C2593.6,1247.0 2598.8,1246.2 2603.2,1245.8C2607.7,1245.3 2613.3,1245.4 2616.7,1245.3C2620.0,1245.3 2621.1,1244.8 2623.4,1245.5C2625.6,1246.3 2627.1,1246.1 2630.1,1249.8C2633.0,1253.5 2637.5,1260.6 2641.2,1267.7C2645.0,1274.8 2649.4,1285.2 2652.4,1292.3C2655.4,1299.3 2657.1,1304.2 2659.1,1310.2C2661.2,1316.1 2663.8,1325.1 2664.7,1328.0" stroke="#ff7f0e" stroke-width="2.08" fill="none" stroke-linejoin="round" stroke-linecap="square"/><path d="M1845.4,1134.7C1846.4,1133.0 1849.3,1126.9 1851.4,1124.6C1853.5,1122.3 1855.5,1121.8 1858.1,1121.0C1860.7,1120.2 1864.1,1119.9 1867.1,1119.7C1870.1,1119.5 1872.3,1119.8 1876.0,1119.9C1879.7,1120.0 1885.0,1120.5 1889.4,1120.4C1893.9,1120.2 1897.6,1119.6 1902.9,1119.2C1908.1,1118.9 1914.8,1118.2 1920.7,1118.3C1926.7,1118.5 1931.9,1119.9 1938.6,1120.1C1945.3,1120.4 1955.4,1119.7 1961.0,1119.7C1966.6,1119.6 1966.6,1119.6 1972.2,1119.9C1977.8,1120.2 1987.1,1121.2 1994.6,1121.7C2002.0,1122.1 2011.3,1122.2 2016.9,1122.6C2022.5,1123.0 2024.0,1123.5 2028.1,1124.2C2032.2,1124.8 2036.7,1126.1 2041.5,1126.6C2046.4,1127.2 2051.2,1127.3 2057.2,1127.5C2063.1,1127.7 2070.6,1127.4 2077.3,1128.0C2084.0,1128.5 2089.6,1130.1 2097.4,1130.9C2105.3,1131.6 2117.2,1132.0 2124.3,1132.7C2131.3,1133.3 2134.3,1134.0 2139.9,1134.7C2145.5,1135.4 2153.0,1136.5 2157.8,1136.9C2162.7,1137.3 2165.3,1137.3 2169.0,1137.3C2172.7,1137.3 2175.7,1136.6 2180.2,1136.9C2184.6,1137.2 2190.2,1138.0 2195.8,1138.9C2201.4,1139.8 2207.8,1141.6 2213.7,1142.3C2219.7,1142.9 2226.4,1142.6 2231.6,1142.9C2236.8,1143.3 2242.0,1144.0 2245.0,1144.3C2248.1,1144.6 2247.8,1144.6 2250.0,1144.7C2252.2,1144.8 2255.4,1144.7 2258.0,1144.7C2260.6,1144.8 2262.1,1144.8 2265.6,1144.9C2269.2,1145.1 2274.2,1145.1 2279.1,1145.6C2283.9,1146.1 2289.9,1147.4 2294.7,1148.1C2299.6,1148.7 2302.5,1149.0 2308.1,1149.6C2313.7,1150.3 2322.3,1151.2 2328.2,1152.1C2334.2,1153.0 2338.3,1154.1 2343.9,1155.2C2349.5,1156.3 2355.1,1157.7 2361.8,1158.6C2368.5,1159.4 2376.7,1159.5 2384.1,1160.4C2391.6,1161.2 2399.0,1162.7 2406.5,1163.7C2414.0,1164.7 2422.9,1165.5 2428.9,1166.2C2434.8,1166.8 2436.7,1166.8 2442.3,1167.7C2447.9,1168.6 2454.9,1170.2 2462.4,1171.5C2469.8,1172.8 2480.3,1174.1 2487.0,1175.6C2493.7,1177.1 2497.4,1178.5 2502.6,1180.5C2507.8,1182.5 2513.4,1185.5 2518.3,1187.6C2523.1,1189.8 2527.2,1191.1 2531.7,1193.5C2536.2,1195.8 2541.0,1198.9 2545.1,1201.7C2549.2,1204.6 2552.2,1207.7 2556.3,1210.7C2560.4,1213.6 2565.6,1217.4 2569.7,1219.6C2573.8,1221.8 2576.4,1223.0 2580.9,1223.6C2585.4,1224.3 2591.7,1223.3 2596.5,1223.6C2601.4,1224.0 2605.8,1225.3 2609.9,1225.6C2614.0,1226.0 2617.8,1225.4 2621.1,1225.9C2624.5,1226.4 2626.7,1225.9 2630.1,1228.6C2633.4,1231.2 2637.5,1235.8 2641.2,1242.0C2645.0,1248.1 2649.4,1258.2 2652.4,1265.4C2655.4,1272.7 2657.1,1278.5 2659.1,1285.6C2661.2,1292.6 2663.8,1304.2 2664.7,1307.9" stroke="#2ca02c" stroke-width="2.08" fill="none" stroke-linejoin="round" stroke-linecap="square"/><path d="M1845.4,1160.4C1846.4,1159.2 1848.9,1155.0 1851.4,1153.2C1853.9,1151.5 1857.4,1150.4 1860.4,1149.9C1863.3,1149.3 1865.6,1149.7 1869.3,1149.9C1873.0,1150.1 1878.3,1150.8 1882.7,1151.0C1887.2,1151.2 1890.2,1151.2 1896.1,1151.0C1902.1,1150.8 1913.3,1149.9 1918.5,1149.9C1923.7,1149.9 1922.2,1150.8 1927.5,1151.0C1932.7,1151.2 1943.9,1150.8 1949.8,1151.0C1955.8,1151.1 1958.8,1152.0 1963.2,1151.9C1967.7,1151.8 1971.4,1150.8 1976.7,1150.5C1981.9,1150.3 1989.3,1150.3 1994.6,1150.5C1999.8,1150.8 2004.2,1151.4 2008.0,1151.9C2011.7,1152.4 2013.2,1152.7 2016.9,1153.7C2020.6,1154.6 2025.1,1156.9 2030.3,1157.7C2035.6,1158.5 2043.8,1158.4 2048.2,1158.6C2052.7,1158.7 2053.1,1158.2 2057.2,1158.6C2061.3,1159.0 2068.4,1160.6 2072.8,1160.8C2077.3,1161.1 2079.9,1160.0 2084.0,1159.9C2088.1,1159.9 2091.8,1160.1 2097.4,1160.4C2103.0,1160.7 2112.0,1161.2 2117.6,1161.7C2123.1,1162.3 2126.9,1163.0 2131.0,1163.7C2135.1,1164.4 2138.1,1165.2 2142.2,1166.0C2146.3,1166.7 2151.1,1167.7 2155.6,1168.2C2160.0,1168.7 2164.5,1168.8 2169.0,1168.9C2173.5,1169.0 2177.9,1168.4 2182.4,1168.9C2186.9,1169.4 2191.7,1170.8 2195.8,1172.0C2199.9,1173.2 2203.3,1175.6 2207.0,1176.3C2210.7,1176.9 2212.6,1175.9 2218.2,1176.0C2223.8,1176.2 2235.3,1177.1 2240.6,1177.4C2245.9,1177.6 2247.1,1177.5 2250.0,1177.6C2252.9,1177.7 2255.8,1177.8 2258.0,1177.8C2260.2,1177.9 2260.3,1177.5 2263.4,1177.8C2266.6,1178.1 2272.0,1178.2 2276.8,1179.4C2281.7,1180.6 2287.6,1184.1 2292.5,1185.0C2297.3,1185.8 2300.3,1184.5 2305.9,1184.5C2311.5,1184.5 2320.4,1184.4 2326.0,1185.0C2331.6,1185.5 2333.5,1186.5 2339.4,1187.6C2345.4,1188.8 2353.6,1190.4 2361.8,1191.7C2370.0,1192.9 2380.4,1193.9 2388.6,1195.0C2396.8,1196.1 2403.5,1197.4 2411.0,1198.4C2418.4,1199.4 2425.9,1199.9 2433.3,1201.1C2440.8,1202.2 2449.0,1203.9 2455.7,1205.1C2462.4,1206.3 2468.0,1207.5 2473.6,1208.2C2479.2,1209.0 2484.0,1208.6 2489.2,1209.5C2494.4,1210.5 2499.3,1212.3 2504.9,1214.0C2510.5,1215.7 2517.5,1218.5 2522.8,1219.6C2528.0,1220.7 2531.3,1220.1 2536.2,1220.7C2541.0,1221.4 2546.6,1222.5 2551.8,1223.4C2557.0,1224.3 2563.0,1225.3 2567.5,1226.3C2571.9,1227.3 2574.9,1227.9 2578.6,1229.2C2582.4,1230.5 2585.7,1232.1 2589.8,1234.1C2593.9,1236.2 2598.8,1238.9 2603.2,1241.7C2607.7,1244.5 2612.2,1246.8 2616.7,1250.9C2621.1,1255.0 2626.0,1261.0 2630.1,1266.6C2634.2,1272.1 2637.5,1277.9 2641.2,1284.4C2645.0,1291.0 2649.4,1299.5 2652.4,1305.7C2655.4,1311.8 2657.1,1316.1 2659.1,1321.3C2661.2,1326.5 2663.8,1334.4 2664.7,1337.0" stroke="#d62728" stroke-width="2.08" fill="none" stroke-linejoin="round" stroke-linecap="square"/><path d="M1845.4,1215.2C1846.4,1213.8 1848.9,1208.9 1851.4,1206.9C1853.9,1204.9 1857.4,1204.0 1860.4,1203.3C1863.3,1202.6 1865.6,1202.5 1869.3,1202.7C1873.0,1202.8 1878.3,1203.6 1882.7,1204.0C1887.2,1204.4 1890.2,1204.8 1896.1,1205.1C1902.1,1205.4 1911.1,1205.6 1918.5,1206.0C1926.0,1206.4 1934.9,1207.2 1940.9,1207.3C1946.8,1207.5 1949.1,1207.2 1954.3,1207.1C1959.5,1207.0 1964.7,1206.5 1972.2,1206.7C1979.6,1206.8 1991.6,1207.7 1999.0,1208.0C2006.5,1208.4 2011.0,1208.1 2016.9,1208.7C2022.9,1209.3 2029.6,1211.0 2034.8,1211.8C2040.0,1212.6 2041.5,1212.9 2048.2,1213.4C2054.9,1213.9 2068.4,1214.3 2075.1,1214.7C2081.8,1215.2 2083.6,1215.5 2088.5,1216.1C2093.3,1216.7 2097.8,1217.7 2104.1,1218.3C2110.5,1218.9 2120.2,1219.0 2126.5,1219.6C2132.8,1220.3 2137.7,1221.5 2142.2,1222.3C2146.6,1223.2 2148.9,1224.2 2153.3,1224.6C2157.8,1224.9 2164.5,1224.6 2169.0,1224.6C2173.5,1224.5 2175.7,1223.9 2180.2,1224.1C2184.6,1224.3 2191.0,1224.9 2195.8,1225.7C2200.7,1226.5 2204.4,1228.2 2209.2,1228.8C2214.1,1229.4 2219.7,1228.9 2224.9,1229.3C2230.1,1229.6 2236.4,1230.4 2240.6,1230.8C2244.7,1231.3 2247.1,1231.7 2250.0,1231.9C2252.9,1232.1 2255.4,1231.9 2258.0,1231.9C2260.6,1232.0 2262.1,1232.2 2265.6,1232.4C2269.2,1232.5 2274.2,1232.3 2279.1,1232.8C2283.9,1233.3 2289.5,1234.5 2294.7,1235.3C2299.9,1236.0 2304.8,1236.7 2310.4,1237.3C2316.0,1237.8 2322.7,1238.0 2328.2,1238.6C2333.8,1239.2 2338.3,1240.1 2343.9,1240.8C2349.5,1241.6 2355.1,1242.5 2361.8,1243.1C2368.5,1243.7 2376.7,1243.8 2384.1,1244.4C2391.6,1245.1 2399.0,1246.2 2406.5,1247.1C2414.0,1248.0 2423.3,1249.1 2428.9,1249.8C2434.4,1250.5 2435.6,1250.5 2440.0,1251.4C2444.5,1252.2 2450.1,1253.7 2455.7,1254.7C2461.3,1255.7 2467.6,1256.6 2473.6,1257.4C2479.5,1258.1 2486.2,1258.5 2491.5,1259.2C2496.7,1259.9 2500.4,1260.6 2504.9,1261.6C2509.3,1262.7 2513.8,1264.2 2518.3,1265.4C2522.8,1266.7 2526.9,1268.4 2531.7,1269.0C2536.5,1269.7 2542.1,1268.9 2547.3,1269.2C2552.6,1269.5 2556.7,1270.2 2563.0,1270.8C2569.3,1271.4 2579.4,1272.3 2585.4,1273.0C2591.3,1273.8 2593.9,1274.2 2598.8,1275.5C2603.6,1276.8 2609.9,1278.7 2614.4,1281.1C2618.9,1283.5 2621.9,1286.3 2625.6,1290.0C2629.3,1293.8 2633.0,1298.6 2636.8,1303.4C2640.5,1308.3 2644.6,1314.3 2648.0,1319.1C2651.3,1323.9 2654.1,1329.0 2656.9,1332.5C2659.7,1336.1 2663.4,1339.0 2664.7,1340.3" stroke="#9467bd" stroke-width="2.08" fill="none" stroke-linejoin="round" stroke-linecap="square"/><path d="M1845.4,1315.8C1846.4,1314.9 1848.9,1311.7 1851.4,1310.2C1853.9,1308.8 1857.4,1307.8 1860.4,1307.1C1863.3,1306.3 1865.6,1306.1 1869.3,1305.8C1873.0,1305.4 1876.8,1305.3 1882.7,1305.1C1888.7,1304.8 1898.8,1304.4 1905.1,1304.2C1911.4,1304.0 1914.0,1303.6 1920.7,1303.7C1927.5,1303.9 1936.8,1304.7 1945.3,1304.9C1953.9,1305.0 1964.0,1304.4 1972.2,1304.6C1980.4,1304.9 1987.1,1305.9 1994.6,1306.4C2002.0,1307.0 2009.5,1307.6 2016.9,1308.0C2024.4,1308.4 2031.8,1308.5 2039.3,1308.7C2046.7,1308.8 2054.9,1309.0 2061.6,1309.1C2068.4,1309.3 2074.3,1309.2 2079.5,1309.6C2084.8,1309.9 2088.9,1310.7 2093.0,1311.3C2097.1,1312.0 2098.9,1313.2 2104.1,1313.6C2109.4,1313.9 2118.7,1313.1 2124.3,1313.4C2129.9,1313.6 2133.2,1314.5 2137.7,1315.1C2142.2,1315.8 2146.3,1317.0 2151.1,1317.4C2155.9,1317.8 2161.9,1317.6 2166.8,1317.4C2171.6,1317.2 2176.1,1316.3 2180.2,1316.0C2184.3,1315.8 2186.9,1315.6 2191.4,1316.0C2195.8,1316.4 2202.5,1317.8 2207.0,1318.5C2211.5,1319.2 2214.5,1319.6 2218.2,1320.1C2221.9,1320.5 2225.6,1321.3 2229.4,1321.4C2233.1,1321.5 2237.1,1320.7 2240.6,1320.7C2244.0,1320.7 2247.1,1321.3 2250.0,1321.3C2252.9,1321.3 2255.4,1320.9 2258.0,1320.7C2260.6,1320.6 2262.1,1320.3 2265.6,1320.4C2269.2,1320.5 2274.2,1320.7 2279.1,1321.3C2283.9,1321.9 2288.4,1323.7 2294.7,1324.0C2301.0,1324.3 2311.1,1323.1 2317.1,1323.1C2323.0,1323.1 2326.0,1323.6 2330.5,1324.0C2335.0,1324.5 2338.7,1325.2 2343.9,1325.8C2349.1,1326.4 2355.1,1327.1 2361.8,1327.6C2368.5,1328.0 2376.7,1328.0 2384.1,1328.5C2391.6,1329.0 2399.0,1330.1 2406.5,1330.7C2414.0,1331.4 2422.9,1332.0 2428.9,1332.5C2434.8,1333.0 2436.3,1332.9 2442.3,1333.6C2448.2,1334.4 2458.7,1336.1 2464.6,1337.0C2470.6,1337.8 2472.8,1338.2 2478.0,1338.8C2483.3,1339.3 2489.2,1339.3 2495.9,1340.3C2502.6,1341.3 2511.6,1343.7 2518.3,1344.8C2525.0,1345.9 2528.7,1346.3 2536.2,1347.0C2543.6,1347.8 2554.8,1348.4 2563.0,1349.1C2571.2,1349.7 2579.4,1350.3 2585.4,1350.8C2591.3,1351.4 2593.9,1351.4 2598.8,1352.2C2603.6,1352.9 2609.9,1353.9 2614.4,1355.3C2618.9,1356.7 2621.9,1358.1 2625.6,1360.5C2629.3,1362.8 2632.7,1365.5 2636.8,1369.4C2640.9,1373.3 2645.5,1379.1 2650.2,1383.9C2654.8,1388.8 2662.3,1396.0 2664.7,1398.5" stroke="#8c564b" stroke-width="2.08" fill="none" stroke-linejoin="round" stroke-linecap="square"/></g>
<rect x="118" y="99" width="823" height="2" fill="#2a2a2a"/><rect x="118" y="1023" width="823" height="2" fill="#2a2a2a"/><rect x="118" y="99" width="2" height="926" fill="#2a2a2a"/><rect x="939" y="99" width="2" height="926" fill="#2a2a2a"/><rect x="118" y="1023" width="2" height="8" fill="#2a2a2a"/><rect x="218" y="1023" width="2" height="8" fill="#2a2a2a"/><rect x="319" y="1023" width="2" height="8" fill="#2a2a2a"/><rect x="419" y="1023" width="2" height="8" fill="#2a2a2a"/><rect x="519" y="1023" width="2" height="8" fill="#2a2a2a"/><rect x="619" y="1023" width="2" height="8" fill="#2a2a2a"/><rect x="719" y="1023" width="2" height="8" fill="#2a2a2a"/><rect x="820" y="1023" width="2" height="8" fill="#2a2a2a"/><rect x="920" y="1023" width="2" height="8" fill="#2a2a2a"/><rect x="111" y="1023" width="8" height="2" fill="#2a2a2a"/><rect x="111" y="910" width="8" height="2" fill="#2a2a2a"/><rect x="111" y="797" width="8" height="2" fill="#2a2a2a"/><rect x="111" y="684" width="8" height="2" fill="#2a2a2a"/><rect x="111" y="572" width="8" height="2" fill="#2a2a2a"/><rect x="111" y="459" width="8" height="2" fill="#2a2a2a"/><rect x="111" y="346" width="8" height="2" fill="#2a2a2a"/><rect x="111" y="233" width="8" height="2" fill="#2a2a2a"/><rect x="111" y="120" width="8" height="2" fill="#2a2a2a"/><rect x="981" y="99" width="823" height="2" fill="#2a2a2a"/><rect x="981" y="1023" width="823" height="2" fill="#2a2a2a"/><rect x="981" y="99" width="2" height="926" fill="#2a2a2a"/><rect x="1802" y="99" width="2" height="926" fill="#2a2a2a"/><rect x="981" y="1023" width="2" height="8" fill="#2a2a2a"/><rect x="1081" y="1023" width="2" height="8" fill="#2a2a2a"/><rect x="1182" y="1023" width="2" height="8" fill="#2a2a2a"/><rect x="1282" y="1023" width="2" height="8" fill="#2a2a2a"/><rect x="1382" y="1023" width="2" height="8" fill="#2a2a2a"/><rect x="1482" y="1023" width="2" height="8" fill="#2a2a2a"/><rect x="1582" y="1023" width="2" height="8" fill="#2a2a2a"/><rect x="1683" y="1023" width="2" height="8" fill="#2a2a2a"/><rect x="1783" y="1023" width="2" height="8" fill="#2a2a2a"/><rect x="974" y="1023" width="8" height="2" fill="#2a2a2a"/><rect x="974" y="910" width="8" height="2" fill="#2a2a2a"/><rect x="974" y="797" width="8" height="2" fill="#2a2a2a"/><rect x="974" y="684" width="8" height="2" fill="#2a2a2a"/><rect x="974" y="572" width="8" height="2" fill="#2a2a2a"/><rect x="974" y="459" width="8" height="2" fill="#2a2a2a"/><rect x="974" y="346" width="8" height="2" fill="#2a2a2a"/><rect x="974" y="233" width="8" height="2" fill="#2a2a2a"/><rect x="974" y="120" width="8" height="2" fill="#2a2a2a"/><rect x="1844" y="99" width="823" height="2" fill="#2a2a2a"/><rect x="1844" y="1023" width="823" height="2" fill="#2a2a2a"/><rect x="1844" y="99" width="2" height="926" fill="#2a2a2a"/><rect x="2665" y="99" width="2" height="926" fill="#2a2a2a"/><rect x="1844" y="1023" width="2" height="8" fill="#2a2a2a"/><rect x="1944" y="1023" width="2" height="8" fill="#2a2a2a"/><rect x="2044" y="1023" width="2" height="8" fill="#2a2a2a"/><rect x="2145" y="1023" width="2" height="8" fill="#2a2a2a"/><rect x="2245" y="1023" width="2" height="8" fill="#2a2a2a"/><rect x="2345" y="1023" width="2" height="8" fill="#2a2a2a"/><rect x="2445" y="1023" width="2" height="8" fill="#2a2a2a"/><rect x="2545" y="1023" width="2" height="8" fill="#2a2a2a"/><rect x="2646" y="1023" width="2" height="8" fill="#2a2a2a"/><rect x="1837" y="1023" width="8" height="2" fill="#2a2a2a"/><rect x="1837" y="910" width="8" height="2" fill="#2a2a2a"/><rect x="1837" y="797" width="8" height="2" fill="#2a2a2a"/><rect x="1837" y="684" width="8" height="2" fill="#2a2a2a"/><rect x="1837" y="572" width="8" height="2" fill="#2a2a2a"/><rect x="1837" y="459" width="8" height="2" fill="#2a2a2a"/><rect x="1837" y="346" width="8" height="2" fill="#2a2a2a"/><rect x="1837" y="233" width="8" height="2" fill="#2a2a2a"/><rect x="1837" y="120" width="8" height="2" fill="#2a2a2a"/><rect x="118" y="1104" width="823" height="2" fill="#2a2a2a"/><rect x="118" y="1412" width="823" height="2" fill="#2a2a2a"/><rect x="118" y="1104" width="2" height="310" fill="#2a2a2a"/><rect x="939" y="1104" width="2" height="310" fill="#2a2a2a"/><rect x="118" y="1412" width="2" height="8" fill="#2a2a2a"/><rect x="218" y="1412" width="2" height="8" fill="#2a2a2a"/><rect x="319" y="1412" width="2" height="8" fill="#2a2a2a"/><rect x="419" y="1412" width="2" height="8" fill="#2a2a2a"/><rect x="519" y="1412" width="2" height="8" fill="#2a2a2a"/><rect x="619" y="1412" width="2" height="8" fill="#2a2a2a"/><rect x="719" y="1412" width="2" height="8" fill="#2a2a2a"/><rect x="820" y="1412" width="2" height="8" fill="#2a2a2a"/><rect x="920" y="1412" width="2" height="8" fill="#2a2a2a"/><rect x="111" y="1405" width="8" height="2" fill="#2a2a2a"/><rect x="111" y="1352" width="8" height="2" fill="#2a2a2a"/><rect x="111" y="1300" width="8" height="2" fill="#2a2a2a"/><rect x="111" y="1247" width="8" height="2" fill="#2a2a2a"/><rect x="111" y="1195" width="8" height="2" fill="#2a2a2a"/><rect x="111" y="1143" width="8" height="2" fill="#2a2a2a"/><rect x="981" y="1104" width="823" height="2" fill="#2a2a2a"/><rect x="981" y="1412" width="823" height="2" fill="#2a2a2a"/><rect x="981" y="1104" width="2" height="310" fill="#2a2a2a"/><rect x="1802" y="1104" width="2" height="310" fill="#2a2a2a"/><rect x="981" y="1412" width="2" height="8" fill="#2a2a2a"/><rect x="1081" y="1412" width="2" height="8" fill="#2a2a2a"/><rect x="1182" y="1412" width="2" height="8" fill="#2a2a2a"/><rect x="1282" y="1412" width="2" height="8" fill="#2a2a2a"/><rect x="1382" y="1412" width="2" height="8" fill="#2a2a2a"/><rect x="1482" y="1412" width="2" height="8" fill="#2a2a2a"/><rect x="1582" y="1412" width="2" height="8" fill="#2a2a2a"/><rect x="1683" y="1412" width="2" height="8" fill="#2a2a2a"/><rect x="1783" y="1412" width="2" height="8" fill="#2a2a2a"/><rect x="974" y="1405" width="8" height="2" fill="#2a2a2a"/><rect x="974" y="1352" width="8" height="2" fill="#2a2a2a"/><rect x="974" y="1300" width="8" height="2" fill="#2a2a2a"/><rect x="974" y="1247" width="8" height="2" fill="#2a2a2a"/><rect x="974" y="1195" width="8" height="2" fill="#2a2a2a"/><rect x="974" y="1143" width="8" height="2" fill="#2a2a2a"/><rect x="1844" y="1104" width="823" height="2" fill="#2a2a2a"/><rect x="1844" y="1412" width="823" height="2" fill="#2a2a2a"/><rect x="1844" y="1104" width="2" height="310" fill="#2a2a2a"/><rect x="2665" y="1104" width="2" height="310" fill="#2a2a2a"/><rect x="1844" y="1412" width="2" height="8" fill="#2a2a2a"/><rect x="1944" y="1412" width="2" height="8" fill="#2a2a2a"/><rect x="2044" y="1412" width="2" height="8" fill="#2a2a2a"/><rect x="2145" y="1412" width="2" height="8" fill="#2a2a2a"/><rect x="2245" y="1412" width="2" height="8" fill="#2a2a2a"/><rect x="2345" y="1412" width="2" height="8" fill="#2a2a2a"/><rect x="2445" y="1412" width="2" height="8" fill="#2a2a2a"/><rect x="2545" y="1412" width="2" height="8" fill="#2a2a2a"/><rect x="2646" y="1412" width="2" height="8" fill="#2a2a2a"/><rect x="1837" y="1405" width="8" height="2" fill="#2a2a2a"/><rect x="1837" y="1352" width="8" height="2" fill="#2a2a2a"/><rect x="1837" y="1300" width="8" height="2" fill="#2a2a2a"/><rect x="1837" y="1247" width="8" height="2" fill="#2a2a2a"/><rect x="1837" y="1195" width="8" height="2" fill="#2a2a2a"/><rect x="1837" y="1143" width="8" height="2" fill="#2a2a2a"/>
<g opacity="0.999"><text x="113.19" y="1054.31" font-size="23.26" textLength="12.21" lengthAdjust="spacingAndGlyphs">0</text>
<text x="199.97" y="1054.31" font-size="23.26" textLength="38.94" lengthAdjust="spacingAndGlyphs">250</text>
<text x="300.50" y="1054.31" font-size="23.26" textLength="38.60" lengthAdjust="spacingAndGlyphs">500</text>
<text x="400.53" y="1054.31" font-size="23.26" textLength="38.77" lengthAdjust="spacingAndGlyphs">750</text>
<text x="494.09" y="1054.31" font-size="23.26" textLength="52.04" lengthAdjust="spacingAndGlyphs">1000</text>
<text x="594.29" y="1054.31" font-size="23.26" textLength="52.04" lengthAdjust="spacingAndGlyphs">1250</text>
<text x="694.49" y="1054.31" font-size="23.26" textLength="52.04" lengthAdjust="spacingAndGlyphs">1500</text>
<text x="794.69" y="1054.31" font-size="23.26" textLength="52.04" lengthAdjust="spacingAndGlyphs">1750</text>
<text x="894.73" y="1054.31" font-size="23.26" textLength="52.21" lengthAdjust="spacingAndGlyphs">2000</text>
<text x="91.78" y="1031.59" font-size="23.26" textLength="12.21" lengthAdjust="spacingAndGlyphs">0</text>
<text x="65.10" y="918.82" font-size="23.26" textLength="38.94" lengthAdjust="spacingAndGlyphs">250</text>
<text x="65.43" y="806.04" font-size="23.26" textLength="38.60" lengthAdjust="spacingAndGlyphs">500</text>
<text x="65.27" y="693.27" font-size="23.26" textLength="38.77" lengthAdjust="spacingAndGlyphs">750</text>
<text x="52.00" y="580.50" font-size="23.26" textLength="52.04" lengthAdjust="spacingAndGlyphs">1000</text>
<text x="52.00" y="467.72" font-size="23.26" textLength="52.04" lengthAdjust="spacingAndGlyphs">1250</text>
<text x="52.00" y="354.95" font-size="23.26" textLength="52.04" lengthAdjust="spacingAndGlyphs">1500</text>
<text x="52.00" y="242.18" font-size="23.26" textLength="52.04" lengthAdjust="spacingAndGlyphs">1750</text>
<text x="51.84" y="129.40" font-size="23.26" textLength="52.21" lengthAdjust="spacingAndGlyphs">2000</text>
<text x="14.20" y="561.98" font-size="23.26" textLength="49.25" lengthAdjust="spacingAndGlyphs" transform="rotate(-90 38.83 561.98)">pixel</text>
<text x="492.35" y="86.96" font-size="26.20" textLength="73.38" lengthAdjust="spacingAndGlyphs">CHIP1</text>
<text x="113.19" y="1443.41" font-size="23.26" textLength="12.21" lengthAdjust="spacingAndGlyphs">0</text>
<text x="199.97" y="1443.41" font-size="23.26" textLength="38.94" lengthAdjust="spacingAndGlyphs">250</text>
<text x="300.50" y="1443.41" font-size="23.26" textLength="38.60" lengthAdjust="spacingAndGlyphs">500</text>
<text x="400.53" y="1443.41" font-size="23.26" textLength="38.77" lengthAdjust="spacingAndGlyphs">750</text>
<text x="494.09" y="1443.41" font-size="23.26" textLength="52.04" lengthAdjust="spacingAndGlyphs">1000</text>
<text x="594.29" y="1443.41" font-size="23.26" textLength="52.04" lengthAdjust="spacingAndGlyphs">1250</text>
<text x="694.49" y="1443.41" font-size="23.26" textLength="52.04" lengthAdjust="spacingAndGlyphs">1500</text>
<text x="794.69" y="1443.41" font-size="23.26" textLength="52.04" lengthAdjust="spacingAndGlyphs">1750</text>
<text x="894.73" y="1443.41" font-size="23.26" textLength="52.21" lengthAdjust="spacingAndGlyphs">2000</text>
<text x="504.89" y="1471.91" font-size="23.26" textLength="49.25" lengthAdjust="spacingAndGlyphs">pixel</text>
<text x="58.66" y="1413.62" font-size="23.26" textLength="45.01" lengthAdjust="spacingAndGlyphs">1.25</text>
<text x="58.64" y="1361.20" font-size="23.26" textLength="45.40" lengthAdjust="spacingAndGlyphs">1.50</text>
<text x="58.66" y="1308.77" font-size="23.26" textLength="45.01" lengthAdjust="spacingAndGlyphs">1.75</text>
<text x="58.48" y="1256.35" font-size="23.26" textLength="45.57" lengthAdjust="spacingAndGlyphs">2.00</text>
<text x="58.49" y="1203.93" font-size="23.26" textLength="45.18" lengthAdjust="spacingAndGlyphs">2.25</text>
<text x="58.48" y="1151.51" font-size="23.26" textLength="45.57" lengthAdjust="spacingAndGlyphs">2.50</text>
<text x="18.11" y="1259.10" font-size="23.26" textLength="55.04" lengthAdjust="spacingAndGlyphs" transform="rotate(-90 45.46 1259.10)">blaze</text>
<text x="119.63" y="1097.95" font-size="23.26" textLength="38.50" lengthAdjust="spacingAndGlyphs">1e6</text>
<text x="976.09" y="1054.31" font-size="23.26" textLength="12.21" lengthAdjust="spacingAndGlyphs">0</text>
<text x="1062.87" y="1054.31" font-size="23.26" textLength="38.94" lengthAdjust="spacingAndGlyphs">250</text>
<text x="1163.40" y="1054.31" font-size="23.26" textLength="38.60" lengthAdjust="spacingAndGlyphs">500</text>
<text x="1263.43" y="1054.31" font-size="23.26" textLength="38.77" lengthAdjust="spacingAndGlyphs">750</text>
<text x="1356.99" y="1054.31" font-size="23.26" textLength="52.04" lengthAdjust="spacingAndGlyphs">1000</text>
<text x="1457.19" y="1054.31" font-size="23.26" textLength="52.04" lengthAdjust="spacingAndGlyphs">1250</text>
<text x="1557.39" y="1054.31" font-size="23.26" textLength="52.04" lengthAdjust="spacingAndGlyphs">1500</text>
<text x="1657.59" y="1054.31" font-size="23.26" textLength="52.04" lengthAdjust="spacingAndGlyphs">1750</text>
<text x="1757.63" y="1054.31" font-size="23.26" textLength="52.21" lengthAdjust="spacingAndGlyphs">2000</text>
<text x="1355.25" y="86.96" font-size="26.20" textLength="73.22" lengthAdjust="spacingAndGlyphs">CHIP2</text>
<text x="976.09" y="1443.41" font-size="23.26" textLength="12.21" lengthAdjust="spacingAndGlyphs">0</text>
<text x="1062.87" y="1443.41" font-size="23.26" textLength="38.94" lengthAdjust="spacingAndGlyphs">250</text>
<text x="1163.40" y="1443.41" font-size="23.26" textLength="38.60" lengthAdjust="spacingAndGlyphs">500</text>
<text x="1263.43" y="1443.41" font-size="23.26" textLength="38.77" lengthAdjust="spacingAndGlyphs">750</text>
<text x="1356.99" y="1443.41" font-size="23.26" textLength="52.04" lengthAdjust="spacingAndGlyphs">1000</text>
<text x="1457.19" y="1443.41" font-size="23.26" textLength="52.04" lengthAdjust="spacingAndGlyphs">1250</text>
<text x="1557.39" y="1443.41" font-size="23.26" textLength="52.04" lengthAdjust="spacingAndGlyphs">1500</text>
<text x="1657.59" y="1443.41" font-size="23.26" textLength="52.04" lengthAdjust="spacingAndGlyphs">1750</text>
<text x="1757.63" y="1443.41" font-size="23.26" textLength="52.21" lengthAdjust="spacingAndGlyphs">2000</text>
<text x="1367.79" y="1471.91" font-size="23.26" textLength="49.25" lengthAdjust="spacingAndGlyphs">pixel</text>
<text x="1838.99" y="1054.31" font-size="23.26" textLength="12.21" lengthAdjust="spacingAndGlyphs">0</text>
<text x="1925.77" y="1054.31" font-size="23.26" textLength="38.94" lengthAdjust="spacingAndGlyphs">250</text>
<text x="2026.30" y="1054.31" font-size="23.26" textLength="38.60" lengthAdjust="spacingAndGlyphs">500</text>
<text x="2126.33" y="1054.31" font-size="23.26" textLength="38.77" lengthAdjust="spacingAndGlyphs">750</text>
<text x="2219.89" y="1054.31" font-size="23.26" textLength="52.04" lengthAdjust="spacingAndGlyphs">1000</text>
<text x="2320.09" y="1054.31" font-size="23.26" textLength="52.04" lengthAdjust="spacingAndGlyphs">1250</text>
<text x="2420.29" y="1054.31" font-size="23.26" textLength="52.04" lengthAdjust="spacingAndGlyphs">1500</text>
<text x="2520.49" y="1054.31" font-size="23.26" textLength="52.04" lengthAdjust="spacingAndGlyphs">1750</text>
<text x="2620.53" y="1054.31" font-size="23.26" textLength="52.21" lengthAdjust="spacingAndGlyphs">2000</text>
<text x="2218.15" y="86.96" font-size="26.20" textLength="73.57" lengthAdjust="spacingAndGlyphs">CHIP3</text>
<text x="1838.99" y="1443.41" font-size="23.26" textLength="12.21" lengthAdjust="spacingAndGlyphs">0</text>
<text x="1925.77" y="1443.41" font-size="23.26" textLength="38.94" lengthAdjust="spacingAndGlyphs">250</text>
<text x="2026.30" y="1443.41" font-size="23.26" textLength="38.60" lengthAdjust="spacingAndGlyphs">500</text>
<text x="2126.33" y="1443.41" font-size="23.26" textLength="38.77" lengthAdjust="spacingAndGlyphs">750</text>
<text x="2219.89" y="1443.41" font-size="23.26" textLength="52.04" lengthAdjust="spacingAndGlyphs">1000</text>
<text x="2320.09" y="1443.41" font-size="23.26" textLength="52.04" lengthAdjust="spacingAndGlyphs">1250</text>
<text x="2420.29" y="1443.41" font-size="23.26" textLength="52.04" lengthAdjust="spacingAndGlyphs">1500</text>
<text x="2520.49" y="1443.41" font-size="23.26" textLength="52.04" lengthAdjust="spacingAndGlyphs">1750</text>
<text x="2620.53" y="1443.41" font-size="23.26" textLength="52.21" lengthAdjust="spacingAndGlyphs">2000</text>
<text x="2230.69" y="1471.91" font-size="23.26" textLength="49.25" lengthAdjust="spacingAndGlyphs">pixel</text>
<text x="1252.09" y="45.46" font-size="23.26" textLength="195.17" lengthAdjust="spacingAndGlyphs">L3340_2024-03-01</text></g>
</svg>
</body></html>
